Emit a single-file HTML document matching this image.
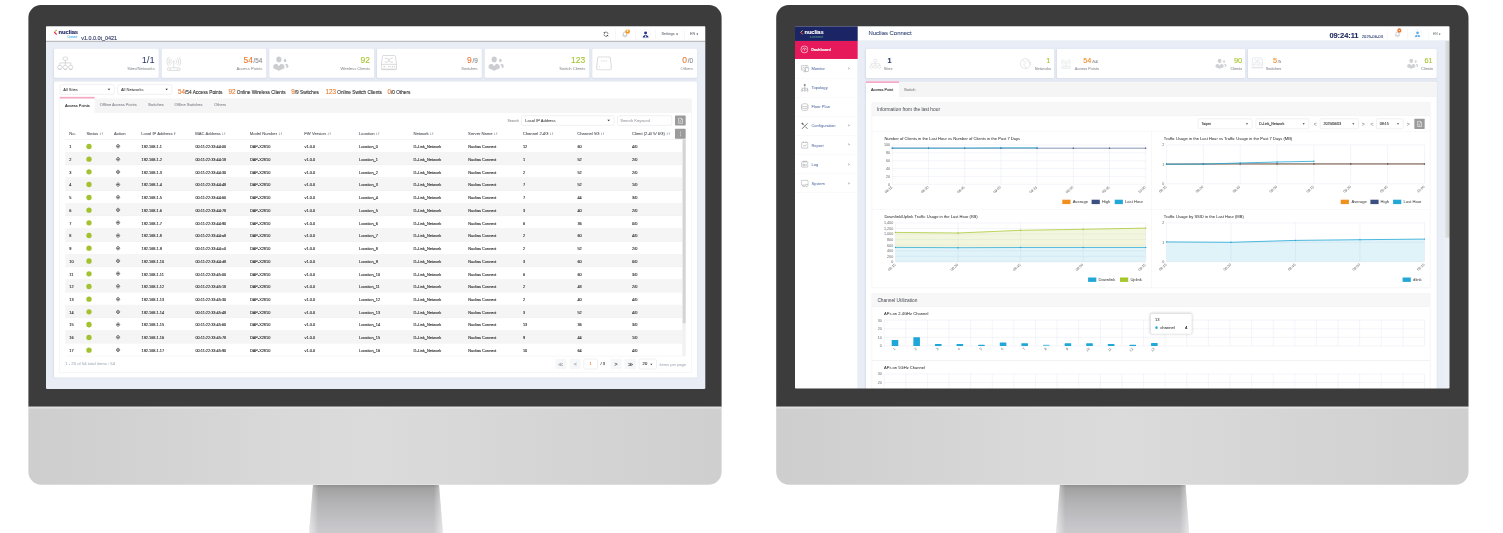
<!DOCTYPE html>
<html lang="en"><head><meta charset="utf-8"><title>Nuclias Connect</title>
<style>
*{box-sizing:border-box}
html,body{margin:0;padding:0}
body{width:1503px;height:533px;background:#fff;position:relative;overflow:hidden;
 font-family:"Liberation Sans",sans-serif;}
.abs{position:absolute}
.bezel{position:absolute;background:#3c3c3c;border-radius:12.5px 12.5px 0 0}
.chin{position:absolute;border-radius:0 0 13px 13px;
 background:linear-gradient(90deg,#cfcfcf 0%,#d2d2d2 12%,#d9dad9 38%,#dadbda 50%,#d6d6d6 70%,#d0d0d0 100%)}
.chin:before{content:"";position:absolute;left:0;right:0;top:0;height:3px;
 background:linear-gradient(180deg,rgba(235,235,235,.9),rgba(235,235,235,0))}
.screen{position:absolute;overflow:hidden;background:#e9edf6}
.ui{position:absolute;left:0;top:0;transform-origin:0 0;transform:scale(0.333333);
 font-family:"Liberation Sans",sans-serif;color:#222;-webkit-text-stroke:0.3px}
.ui div,.ui span{position:absolute;white-space:nowrap}
.ui span.i{position:static;line-height:0}
.t{line-height:1;transform:translateY(-50%)}
.tr{line-height:1;transform:translate(-100%,-50%)}
.tc{line-height:1;transform:translate(-50%,-50%)}
</style></head>
<body>
<svg class="abs" style="left:307.0px;top:484.6px" width="138.0" height="49.4" viewBox="307.0 484.6 138.0 49.4"><defs><linearGradient id="g28" x1="0" y1="0" x2="0" y2="1"><stop offset="0" stop-color="#8f8f8f"/><stop offset="0.07" stop-color="#a2a2a3"/><stop offset="0.35" stop-color="#b3b3b5"/><stop offset="0.75" stop-color="#c3c3c7"/><stop offset="1" stop-color="#cbcbce"/></linearGradient><linearGradient id="g28h" x1="0" y1="0" x2="1" y2="0"><stop offset="0" stop-color="#fff" stop-opacity=".55"/><stop offset="0.07" stop-color="#fff" stop-opacity="0"/><stop offset="0.93" stop-color="#fff" stop-opacity="0"/><stop offset="1" stop-color="#fff" stop-opacity=".55"/></linearGradient></defs><polygon points="313.0,484.6 439.0,484.6 443.0,534 309.0,534" fill="url(#g28)"/><polygon points="313.0,484.6 439.0,484.6 443.0,534 309.0,534" fill="url(#g28h)"/></svg>
<div class="screen" style="left:45px;top:25px;width:662px;height:365px"><div class="ui" style="width:1978px;height:1088px;transform:translate(1.00px,1.20px) scale(0.333333)"><div style="left:0.0px;top:0.0px;width:1977.9px;height:45.9px;background:#fff;border-bottom:2.1px solid #86888c"></div><svg class="abs" style="left:22.8px;top:10.2px;" width="12.0" height="16.2" viewBox="0 0 12 16"><path d="M9 1 L2 8 L9 15" fill="none" stroke="#f2b632" stroke-width="3.2"/><path d="M2 8 L9 15" fill="none" stroke="#e6215a" stroke-width="3.2"/><path d="M9.5 0.5 L6.5 3.5" fill="none" stroke="#2a8fd6" stroke-width="3"/></svg><div class="t" style="left:37.8px;top:17.7px;font-size:17.5px;color:#1c2363;font-weight:700;letter-spacing:-0.3px">nuclias</div><div class="t" style="left:64.2px;top:33.3px;font-size:8px;color:#5db8ea;font-weight:400;">Connect</div><div class="t" style="left:105.6px;top:35.7px;font-size:16.3px;color:#27305f;font-weight:400;">v1.0.0.0t_0421</div><div style="left:1706.6px;top:8.4px;width:0.9px;height:31.5px;background:#e4e6ea"></div><div style="left:1767.2px;top:8.4px;width:0.9px;height:31.5px;background:#e4e6ea"></div><div style="left:1828.7px;top:8.4px;width:0.9px;height:31.5px;background:#e4e6ea"></div><div style="left:1914.8px;top:8.4px;width:0.9px;height:31.5px;background:#e4e6ea"></div><svg class="abs" style="left:1670.7px;top:14.7px;" width="18.0" height="18.0" viewBox="0 0 18 18"><path d="M15.2 8.2A6.3 6.3 0 0 0 3.6 5.5" fill="none" stroke="#333" stroke-width="1.9"/><path d="M2.8 9.8A6.3 6.3 0 0 0 14.4 12.5" fill="none" stroke="#333" stroke-width="1.9"/><path d="M1.2 3.2L4 7.6L7.6 4.6Z" fill="#333"/><path d="M16.8 14.8L14 10.4L10.4 13.4Z" fill="#333"/></svg><svg class="abs" style="left:1726.8px;top:14.1px;" width="19.8" height="21.0" viewBox="0 0 20 21"><path d="M10 3.5c-3.2 0-5 2.4-5 5.4v3.8l-1.7 2.4h13.4l-1.7-2.4V8.9c0-3-1.8-5.4-5-5.400z" fill="none" stroke="#8f949c" stroke-width="1.5"/><path d="M8 17.3a2 2 0 0 0 4 0" fill="none" stroke="#8f949c" stroke-width="1.4"/></svg><div style="left:1737.9px;top:9.0px;width:13.8px;height:13.8px;background:#f59a1c;border-radius:50%"></div><div class="tc" style="left:1744.8px;top:15.9px;font-size:8px;color:#fff;font-weight:700;">0</div><div style="left:1783.8px;top:8.7px;width:30.0px;height:30.0px;background:#fff;border:1.5px solid #e2e5ea;border-radius:50%"></div><svg class="abs" style="left:1788.0px;top:12.9px;" width="21.6" height="23.4" viewBox="0 0 22 24"><circle cx="11" cy="7.3" r="4.6" fill="#2a3590"/><path d="M2.2 21.5c0-5 3.6-8 8.800-8s8.800 3 8.800 8z" fill="#2a3590"/><path d="M11 13.5l-2.200 5.500 2.200 2.500 2.200-2.500z" fill="#fff"/></svg><div class="t" style="left:1846.2px;top:23.7px;font-size:11px;color:#7a7f88;font-weight:400;">Settings <span class="i" style="font-size:8px;color:#333">&#9660;</span></div><div class="t" style="left:1932.0px;top:23.7px;font-size:11px;color:#7a7f88;font-weight:400;">EN <span class="i" style="font-size:8px;color:#333">&#9660;</span></div><div style="left:24.3px;top:68.1px;width:313.5px;height:87.3px;background:#fff;border-radius:4px;box-shadow:0 1px 5px rgba(120,135,170,.15)"></div><svg class="abs" style="left:33.0px;top:90.3px;" width="49.8" height="45.6" viewBox="0 0 48 44"><g fill="none" stroke="#bcbec2" stroke-width="1.6"><ellipse cx="24" cy="7" rx="7" ry="5.500"/><path d="M24 12.500v7M8 26v-6.500h32V26M24 19.500V26"/><ellipse cx="8" cy="32" rx="6.500" ry="5.500"/><ellipse cx="24" cy="32" rx="6.500" ry="5.500"/><ellipse cx="40" cy="32" rx="6.500" ry="5.500"/><path d="M4 38.500h8M20 38.500h8M36 38.500h8"/></g></svg><div class="tr" style="left:326.1px;top:102.3px;font-size:25.5px;color:#2b3a6b;font-weight:400;letter-spacing:1px"><span class="i" style="color:#2b3a6b">1/1</span></div><div class="tr" style="left:326.1px;top:127.2px;font-size:12.4px;color:#8c8f94;font-weight:400;-webkit-text-stroke:0.1px">Sites/Networks</div><div style="left:347.2px;top:68.1px;width:313.5px;height:87.3px;background:#fff;border-radius:4px;box-shadow:0 1px 5px rgba(120,135,170,.15)"></div><svg class="abs" style="left:360.0px;top:89.4px;" width="46.8" height="46.8" viewBox="0 0 48 48"><g fill="none" stroke="#bcbec2" stroke-width="1.5"><path d="M18 24a8 8 0 0 1 0-13M30 24a8 8 0 0 0 0-13M13.500 28a14 14 0 0 1 0-21M34.500 28a14 14 0 0 0 0-21M9 32a20 20 0 0 1 0-29M39 32a20 20 0 0 0 0-29"/><path d="M24 20v17"/><circle cx="24" cy="17.500" r="1.800"/><rect x="4" y="37" width="40" height="8" rx="4"/><path d="M9 41h6M30 41h2M34 41h2M38 41h2"/></g></svg><div class="tr" style="left:649.1px;top:102.3px;font-size:25.5px;color:#ea7a2e;font-weight:400;"><span class="i" style="color:#ea7a2e">54</span><span class="i" style="font-size:19px;color:#8a8d92;margin-left:2px">/54</span></div><div class="tr" style="left:649.1px;top:127.2px;font-size:12.4px;color:#8c8f94;font-weight:400;-webkit-text-stroke:0.1px">Access Points</div><div style="left:670.2px;top:68.1px;width:313.5px;height:87.3px;background:#fff;border-radius:4px;box-shadow:0 1px 5px rgba(120,135,170,.15)"></div><svg class="abs" style="left:680.1px;top:89.4px;" width="48.9" height="45.6" viewBox="0 0 50 46"><g fill="#cbcdd0"><path d="M19 2c-5 0-8 3.500-8 8.500 0 4 2 9 8 9s8-5 8-9C27 5.500 24 2 19 2z"/><path d="M2 38V31c0-3 2-4.500 5-5.500l6-2 6 8 6-8 6 2c3 1 5 2.500 5 5.500v7l-17 7z"/><ellipse cx="38" cy="14" rx="4" ry="5.500"/><path d="M38 27l3-3 4 1.500c2 .8 3 2 3 4V35l-6 3v-7z"/></g></svg><div class="tr" style="left:972.0px;top:102.3px;font-size:25.5px;color:#a3c52e;font-weight:400;"><span class="i" style="color:#a3c52e">92</span></div><div class="tr" style="left:972.0px;top:127.2px;font-size:12.4px;color:#8c8f94;font-weight:400;-webkit-text-stroke:0.1px">Wireless Clients</div><div style="left:993.2px;top:68.1px;width:313.5px;height:87.3px;background:#fff;border-radius:4px;box-shadow:0 1px 5px rgba(120,135,170,.15)"></div><svg class="abs" style="left:1003.5px;top:86.1px;" width="49.5" height="47.4" viewBox="0 0 52 50"><g fill="none" stroke="#bcbec2" stroke-width="1.700"><path d="M9 2h34c2 0 3 1 3.300 3L50 29v15c0 2-1 3-3 3H5c-2 0-3-1-3-3V29L5.700 5C6 3 7 2 9 2z"/><path d="M3 30h46M3 45h46"/><path d="M13 11h7c5 0 7 12 12 12h7M13 23h7c5 0 7-12 12-12h7"/><path d="M9 37.500h5M24 37.500h3M30 37.500h3M36 37.500h3M42 37.500h3" stroke-width="3"/></g></svg><div class="tr" style="left:1295.0px;top:102.3px;font-size:25.5px;color:#ea7a2e;font-weight:400;"><span class="i" style="color:#ea7a2e">9</span><span class="i" style="font-size:19px;color:#8a8d92;margin-left:2px">/9</span></div><div class="tr" style="left:1295.0px;top:127.2px;font-size:12.4px;color:#8c8f94;font-weight:400;-webkit-text-stroke:0.1px">Switches</div><div style="left:1316.1px;top:68.1px;width:313.5px;height:87.3px;background:#fff;border-radius:4px;box-shadow:0 1px 5px rgba(120,135,170,.15)"></div><svg class="abs" style="left:1326.0px;top:89.4px;" width="48.9" height="45.6" viewBox="0 0 50 46"><g fill="#cbcdd0"><path d="M19 2c-5 0-8 3.500-8 8.500 0 4 2 9 8 9s8-5 8-9C27 5.500 24 2 19 2z"/><path d="M2 38V31c0-3 2-4.500 5-5.500l6-2 6 8 6-8 6 2c3 1 5 2.500 5 5.500v7l-17 7z"/><ellipse cx="38" cy="14" rx="4" ry="5.500"/><path d="M38 27l3-3 4 1.500c2 .8 3 2 3 4V35l-6 3v-7z"/></g></svg><div class="tr" style="left:1617.9px;top:102.3px;font-size:25.5px;color:#a3c52e;font-weight:400;"><span class="i" style="color:#a3c52e">123</span></div><div class="tr" style="left:1617.9px;top:127.2px;font-size:12.4px;color:#8c8f94;font-weight:400;-webkit-text-stroke:0.1px">Switch Clients</div><div style="left:1639.1px;top:68.1px;width:313.5px;height:87.3px;background:#fff;border-radius:4px;box-shadow:0 1px 5px rgba(120,135,170,.15)"></div><svg class="abs" style="left:1650.0px;top:90.0px;" width="48.0" height="43.2" viewBox="0 0 46 42"><g fill="none" stroke="#bcbec2" stroke-width="1.700"><path d="M8 2h30c2 0 3 1 3.500 3L44 28v9c0 2-1 3-3 3H5c-2 0-3-1-3-3v-9L4.500 5C5 3 6 2 8 2z"/><path d="M15 14h3M21.500 14h3M28 14h3M9 31h2" stroke-width="2.200"/></g></svg><div class="tr" style="left:1940.9px;top:102.3px;font-size:25.5px;color:#ea7a2e;font-weight:400;"><span class="i" style="color:#ea7a2e">0</span><span class="i" style="font-size:19px;color:#8a8d92;margin-left:2px">/0</span></div><div class="tr" style="left:1940.9px;top:127.2px;font-size:12.4px;color:#8c8f94;font-weight:400;-webkit-text-stroke:0.1px">Others</div><div style="left:24.3px;top:165.6px;width:1928.7px;height:888.9px;background:#fff;border-radius:4px;box-shadow:0 1px 5px rgba(120,135,170,.15)"></div><div style="left:41.1px;top:174.9px;width:163.8px;height:30.6px;background:#fff;border:1.6px solid #d3d6db;border-radius:5px"></div><div class="t" style="left:51.6px;top:190.9px;font-size:12.2px;color:#3c3c3c;font-weight:400;-webkit-text-stroke:0.1px">All Sites</div><div style="left:184.6px;top:188.2px;width:0;height:0;border-left:4.1px solid transparent;border-right:4.1px solid transparent;border-top:4.5px solid #333"></div><div style="left:214.2px;top:174.9px;width:163.8px;height:30.6px;background:#fff;border:1.6px solid #d3d6db;border-radius:5px"></div><div class="t" style="left:224.7px;top:190.9px;font-size:12.2px;color:#3c3c3c;font-weight:400;-webkit-text-stroke:0.1px">All Networks</div><div style="left:357.8px;top:188.2px;width:0;height:0;border-left:4.1px solid transparent;border-right:4.1px solid transparent;border-top:4.5px solid #333"></div><div style="left:396.0px;top:184.9px;font-size:14.2px;color:#2a2a2a;line-height:24px;height:24px"><span class="i" style="color:#ea7a2e;font-size:19px">54</span>/54 Access Points</div><div style="left:547.2px;top:184.9px;font-size:14.2px;color:#2a2a2a;line-height:24px;height:24px"><span class="i" style="color:#ea7a2e;font-size:19px">92</span> Online Wireless Clients</div><div style="left:735.6px;top:184.9px;font-size:14.2px;color:#2a2a2a;line-height:24px;height:24px"><span class="i" style="color:#ea7a2e;font-size:19px">9</span>/9 Switches</div><div style="left:838.2px;top:184.9px;font-size:14.2px;color:#2a2a2a;line-height:24px;height:24px"><span class="i" style="color:#ea7a2e;font-size:19px">123</span> Online Switch Clients</div><div style="left:1024.2px;top:184.9px;font-size:14.2px;color:#2a2a2a;line-height:24px;height:24px"><span class="i" style="color:#ea7a2e;font-size:19px">0</span>/0 Others</div><div style="left:41.1px;top:217.2px;width:1895.4px;height:821.7px;background:#fff;border:1.2px solid #e3e5e8;border-top:none"></div><div style="left:41.1px;top:216.6px;width:1895.4px;height:42.6px;background:#f5f5f5;border-bottom:1.2px solid #ececec"></div><div style="left:41.1px;top:212.1px;width:104.7px;height:47.7px;background:#fff;border-top:5.6px solid #f5a6c3"></div><div class="t" style="left:57.0px;top:237.9px;font-size:11.8px;color:#333;font-weight:400;">Access Points</div><div class="t" style="left:161.4px;top:236.7px;font-size:11.8px;color:#8d9096;font-weight:400;">Offline Access Points</div><div class="t" style="left:306.0px;top:236.7px;font-size:11.8px;color:#8d9096;font-weight:400;">Switches</div><div class="t" style="left:385.2px;top:236.7px;font-size:11.8px;color:#8d9096;font-weight:400;">Offline Switches</div><div class="t" style="left:504.6px;top:236.7px;font-size:11.8px;color:#8d9096;font-weight:400;">Others</div><div class="tr" style="left:1417.8px;top:282.9px;font-size:10.5px;color:#9a9da3;font-weight:400;">Search</div><div style="left:1425.9px;top:267.9px;width:279.6px;height:30.3px;background:#fff;border:1.6px solid #d3d6db;border-radius:5px"></div><div class="t" style="left:1437.6px;top:283.8px;font-size:12.2px;color:#3c3c3c;font-weight:400;-webkit-text-stroke:0.1px">Local IP Address</div><div style="left:1684.1px;top:281.2px;width:0;height:0;border-left:4.1px solid transparent;border-right:4.1px solid transparent;border-top:4.5px solid #333"></div><div style="left:1714.2px;top:267.9px;width:163.5px;height:30.3px;background:#fff;border:1.6px solid #d3d6db;border-radius:5px"></div><div class="t" style="left:1722.9px;top:283.8px;font-size:12.2px;color:#a9acb2;font-weight:400;">Search Keyword</div><div style="left:1887.3px;top:267.6px;width:31.8px;height:30.6px;background:#9b9b9b;border-radius:2px"></div><svg class="abs" style="left:1894.8px;top:273.6px;" width="17.4" height="19.2" viewBox="0 0 18 20"><path d="M3 1.500h8l4.500 4.500v12.500h-12.500z" fill="none" stroke="#fff" stroke-width="1.700"/><path d="M11 1.500v4.500h4.500" fill="none" stroke="#fff" stroke-width="1.500"/><path d="M6 10.500h6M6 14h6" stroke="#fff" stroke-width="1.300"/></svg><div style="left:1887.3px;top:308.1px;width:31.8px;height:30.3px;background:#9b9b9b;border-radius:2px"></div><div style="left:1902.0px;top:316.2px;width:2.7px;height:2.7px;background:#fff;border-radius:50%"></div><div style="left:1902.0px;top:321.9px;width:2.7px;height:2.7px;background:#fff;border-radius:50%"></div><div style="left:1902.0px;top:327.6px;width:2.7px;height:2.7px;background:#fff;border-radius:50%"></div><div class="t" style="left:69.6px;top:324.3px;font-size:12.5px;color:#5b5f66;font-weight:400;">No.</div><div class="t" style="left:121.2px;top:324.3px;font-size:12.5px;color:#5b5f66;font-weight:400;">Status <span class="i" style="font-size:13px;color:#7d8086;letter-spacing:-0.5px">&#8595;&#8593;</span></div><div class="t" style="left:203.7px;top:324.3px;font-size:12.5px;color:#5b5f66;font-weight:400;">Action</div><div class="t" style="left:285.9px;top:324.3px;font-size:12.5px;color:#5b5f66;font-weight:400;">Local IP Address <span class="i" style="font-size:13px;color:#222;font-weight:700">&#8593;</span></div><div class="t" style="left:447.6px;top:324.3px;font-size:12.5px;color:#5b5f66;font-weight:400;">MAC Address <span class="i" style="font-size:13px;color:#7d8086;letter-spacing:-0.5px">&#8595;&#8593;</span></div><div class="t" style="left:611.1px;top:324.3px;font-size:12.5px;color:#5b5f66;font-weight:400;">Model Number <span class="i" style="font-size:13px;color:#7d8086;letter-spacing:-0.5px">&#8595;&#8593;</span></div><div class="t" style="left:774.9px;top:324.3px;font-size:12.5px;color:#5b5f66;font-weight:400;">FW Version <span class="i" style="font-size:13px;color:#7d8086;letter-spacing:-0.5px">&#8595;&#8593;</span></div><div class="t" style="left:938.4px;top:324.3px;font-size:12.5px;color:#5b5f66;font-weight:400;">Location <span class="i" style="font-size:13px;color:#7d8086;letter-spacing:-0.5px">&#8595;&#8593;</span></div><div class="t" style="left:1102.2px;top:324.3px;font-size:12.5px;color:#5b5f66;font-weight:400;">Network <span class="i" style="font-size:13px;color:#7d8086;letter-spacing:-0.5px">&#8595;&#8593;</span></div><div class="t" style="left:1266.3px;top:324.3px;font-size:12.5px;color:#5b5f66;font-weight:400;">Server Name <span class="i" style="font-size:13px;color:#7d8086;letter-spacing:-0.5px">&#8595;&#8593;</span></div><div class="t" style="left:1430.1px;top:324.3px;font-size:12.5px;color:#5b5f66;font-weight:400;">Channel 2.4G <span class="i" style="font-size:13px;color:#7d8086;letter-spacing:-0.5px">&#8595;&#8593;</span></div><div class="t" style="left:1593.6px;top:324.3px;font-size:12.5px;color:#5b5f66;font-weight:400;">Channel 5G <span class="i" style="font-size:13px;color:#7d8086;letter-spacing:-0.5px">&#8595;&#8593;</span></div><div class="t" style="left:1757.7px;top:324.3px;font-size:12.5px;color:#5b5f66;font-weight:400;">Client (2.4/ 5/ 6G) <span class="i" style="font-size:13px;color:#7d8086;letter-spacing:-0.5px">&#8595;&#8593;</span></div><div style="left:57.6px;top:339.7px;width:1861.5px;height:1.2px;background:#d4d6d9"></div><div style="left:57.6px;top:340.9px;width:1851.6px;height:38.2px;background:#fff;border-bottom:1.2px solid #e3e4e6"></div><div class="t" style="left:69.9px;top:361.6px;font-size:11.6px;color:#222;font-weight:400;">1</div><div style="left:120.9px;top:352.7px;width:16.2px;height:16.2px;background:#a4c22f;border-radius:50%"></div><svg class="abs" style="left:208.8px;top:353.3px;" width="14.4" height="14.4" viewBox="0 0 16 16"><path d="M8 1L15 8L8 15L1 8Z" fill="#fff" stroke="#333" stroke-width="1.800"/><path d="M8 4.500L11.500 8L8 11.500L4.500 8Z" fill="#444"/><path d="M8 1v3.500M8 11.500V15M1 8h3.500M11.500 8H15" stroke="#333" stroke-width="1.300"/></svg><div class="t" style="left:286.5px;top:361.6px;font-size:11.6px;color:#1f1f1f;font-weight:400;">192.168.1.1</div><div class="t" style="left:448.2px;top:361.6px;font-size:11.6px;color:#1f1f1f;font-weight:400;">00:11:22:33:44:00</div><div class="t" style="left:611.7px;top:361.6px;font-size:11.6px;color:#1f1f1f;font-weight:400;">DAP-X2810</div><div class="t" style="left:775.5px;top:361.6px;font-size:11.6px;color:#1f1f1f;font-weight:400;">v1.0.0</div><div class="t" style="left:939.0px;top:361.6px;font-size:11.6px;color:#1f1f1f;font-weight:400;">Location_0</div><div class="t" style="left:1102.8px;top:361.6px;font-size:11.6px;color:#1f1f1f;font-weight:400;">D-Link_Network</div><div class="t" style="left:1266.9px;top:361.6px;font-size:11.6px;color:#1f1f1f;font-weight:400;">Nuclias Connect</div><div class="t" style="left:1430.7px;top:361.6px;font-size:11.6px;color:#1f1f1f;font-weight:400;">12</div><div class="t" style="left:1594.2px;top:361.6px;font-size:11.6px;color:#1f1f1f;font-weight:400;">60</div><div class="t" style="left:1758.3px;top:361.6px;font-size:11.6px;color:#1f1f1f;font-weight:400;">4/0</div><div style="left:57.6px;top:379.1px;width:1851.6px;height:38.2px;background:#f5f5f5;border-bottom:1.2px solid #e3e4e6"></div><div class="t" style="left:69.9px;top:399.8px;font-size:11.6px;color:#222;font-weight:400;">2</div><div style="left:120.9px;top:390.9px;width:16.2px;height:16.2px;background:#a4c22f;border-radius:50%"></div><svg class="abs" style="left:208.8px;top:391.5px;" width="14.4" height="14.4" viewBox="0 0 16 16"><path d="M8 1L15 8L8 15L1 8Z" fill="#fff" stroke="#333" stroke-width="1.800"/><path d="M8 4.500L11.500 8L8 11.500L4.500 8Z" fill="#444"/><path d="M8 1v3.500M8 11.500V15M1 8h3.500M11.500 8H15" stroke="#333" stroke-width="1.300"/></svg><div class="t" style="left:286.5px;top:399.8px;font-size:11.6px;color:#1f1f1f;font-weight:400;">192.168.1.2</div><div class="t" style="left:448.2px;top:399.8px;font-size:11.6px;color:#1f1f1f;font-weight:400;">00:11:22:33:44:18</div><div class="t" style="left:611.7px;top:399.8px;font-size:11.6px;color:#1f1f1f;font-weight:400;">DAP-X2810</div><div class="t" style="left:775.5px;top:399.8px;font-size:11.6px;color:#1f1f1f;font-weight:400;">v1.0.0</div><div class="t" style="left:939.0px;top:399.8px;font-size:11.6px;color:#1f1f1f;font-weight:400;">Location_1</div><div class="t" style="left:1102.8px;top:399.8px;font-size:11.6px;color:#1f1f1f;font-weight:400;">D-Link_Network</div><div class="t" style="left:1266.9px;top:399.8px;font-size:11.6px;color:#1f1f1f;font-weight:400;">Nuclias Connect</div><div class="t" style="left:1430.7px;top:399.8px;font-size:11.6px;color:#1f1f1f;font-weight:400;">1</div><div class="t" style="left:1594.2px;top:399.8px;font-size:11.6px;color:#1f1f1f;font-weight:400;">52</div><div class="t" style="left:1758.3px;top:399.8px;font-size:11.6px;color:#1f1f1f;font-weight:400;">2/0</div><div style="left:57.6px;top:417.3px;width:1851.6px;height:38.2px;background:#fff;border-bottom:1.2px solid #e3e4e6"></div><div class="t" style="left:69.9px;top:438.0px;font-size:11.6px;color:#222;font-weight:400;">3</div><div style="left:120.9px;top:429.1px;width:16.2px;height:16.2px;background:#a4c22f;border-radius:50%"></div><svg class="abs" style="left:208.8px;top:429.7px;" width="14.4" height="14.4" viewBox="0 0 16 16"><path d="M8 1L15 8L8 15L1 8Z" fill="#fff" stroke="#333" stroke-width="1.800"/><path d="M8 4.500L11.500 8L8 11.500L4.500 8Z" fill="#444"/><path d="M8 1v3.500M8 11.500V15M1 8h3.500M11.500 8H15" stroke="#333" stroke-width="1.300"/></svg><div class="t" style="left:286.5px;top:438.0px;font-size:11.6px;color:#1f1f1f;font-weight:400;">192.168.1.3</div><div class="t" style="left:448.2px;top:438.0px;font-size:11.6px;color:#1f1f1f;font-weight:400;">00:11:22:33:44:30</div><div class="t" style="left:611.7px;top:438.0px;font-size:11.6px;color:#1f1f1f;font-weight:400;">DAP-X2810</div><div class="t" style="left:775.5px;top:438.0px;font-size:11.6px;color:#1f1f1f;font-weight:400;">v1.0.0</div><div class="t" style="left:939.0px;top:438.0px;font-size:11.6px;color:#1f1f1f;font-weight:400;">Location_2</div><div class="t" style="left:1102.8px;top:438.0px;font-size:11.6px;color:#1f1f1f;font-weight:400;">D-Link_Network</div><div class="t" style="left:1266.9px;top:438.0px;font-size:11.6px;color:#1f1f1f;font-weight:400;">Nuclias Connect</div><div class="t" style="left:1430.7px;top:438.0px;font-size:11.6px;color:#1f1f1f;font-weight:400;">2</div><div class="t" style="left:1594.2px;top:438.0px;font-size:11.6px;color:#1f1f1f;font-weight:400;">52</div><div class="t" style="left:1758.3px;top:438.0px;font-size:11.6px;color:#1f1f1f;font-weight:400;">2/0</div><div style="left:57.6px;top:455.5px;width:1851.6px;height:38.2px;background:#f5f5f5;border-bottom:1.2px solid #e3e4e6"></div><div class="t" style="left:69.9px;top:476.1px;font-size:11.6px;color:#222;font-weight:400;">4</div><div style="left:120.9px;top:467.3px;width:16.2px;height:16.2px;background:#a4c22f;border-radius:50%"></div><svg class="abs" style="left:208.8px;top:467.9px;" width="14.4" height="14.4" viewBox="0 0 16 16"><path d="M8 1L15 8L8 15L1 8Z" fill="#fff" stroke="#333" stroke-width="1.800"/><path d="M8 4.500L11.500 8L8 11.500L4.500 8Z" fill="#444"/><path d="M8 1v3.500M8 11.500V15M1 8h3.500M11.500 8H15" stroke="#333" stroke-width="1.300"/></svg><div class="t" style="left:286.5px;top:476.1px;font-size:11.6px;color:#1f1f1f;font-weight:400;">192.168.1.4</div><div class="t" style="left:448.2px;top:476.1px;font-size:11.6px;color:#1f1f1f;font-weight:400;">00:11:22:33:44:48</div><div class="t" style="left:611.7px;top:476.1px;font-size:11.6px;color:#1f1f1f;font-weight:400;">DAP-X2810</div><div class="t" style="left:775.5px;top:476.1px;font-size:11.6px;color:#1f1f1f;font-weight:400;">v1.0.0</div><div class="t" style="left:939.0px;top:476.1px;font-size:11.6px;color:#1f1f1f;font-weight:400;">Location_3</div><div class="t" style="left:1102.8px;top:476.1px;font-size:11.6px;color:#1f1f1f;font-weight:400;">D-Link_Network</div><div class="t" style="left:1266.9px;top:476.1px;font-size:11.6px;color:#1f1f1f;font-weight:400;">Nuclias Connect</div><div class="t" style="left:1430.7px;top:476.1px;font-size:11.6px;color:#1f1f1f;font-weight:400;">7</div><div class="t" style="left:1594.2px;top:476.1px;font-size:11.6px;color:#1f1f1f;font-weight:400;">52</div><div class="t" style="left:1758.3px;top:476.1px;font-size:11.6px;color:#1f1f1f;font-weight:400;">1/0</div><div style="left:57.6px;top:493.7px;width:1851.6px;height:38.2px;background:#fff;border-bottom:1.2px solid #e3e4e6"></div><div class="t" style="left:69.9px;top:514.3px;font-size:11.6px;color:#222;font-weight:400;">5</div><div style="left:120.9px;top:505.5px;width:16.2px;height:16.2px;background:#a4c22f;border-radius:50%"></div><svg class="abs" style="left:208.8px;top:506.1px;" width="14.4" height="14.4" viewBox="0 0 16 16"><path d="M8 1L15 8L8 15L1 8Z" fill="#fff" stroke="#333" stroke-width="1.800"/><path d="M8 4.500L11.500 8L8 11.500L4.500 8Z" fill="#444"/><path d="M8 1v3.500M8 11.500V15M1 8h3.500M11.500 8H15" stroke="#333" stroke-width="1.300"/></svg><div class="t" style="left:286.5px;top:514.3px;font-size:11.6px;color:#1f1f1f;font-weight:400;">192.168.1.5</div><div class="t" style="left:448.2px;top:514.3px;font-size:11.6px;color:#1f1f1f;font-weight:400;">00:11:22:33:44:60</div><div class="t" style="left:611.7px;top:514.3px;font-size:11.6px;color:#1f1f1f;font-weight:400;">DAP-X2810</div><div class="t" style="left:775.5px;top:514.3px;font-size:11.6px;color:#1f1f1f;font-weight:400;">v1.0.0</div><div class="t" style="left:939.0px;top:514.3px;font-size:11.6px;color:#1f1f1f;font-weight:400;">Location_4</div><div class="t" style="left:1102.8px;top:514.3px;font-size:11.6px;color:#1f1f1f;font-weight:400;">D-Link_Network</div><div class="t" style="left:1266.9px;top:514.3px;font-size:11.6px;color:#1f1f1f;font-weight:400;">Nuclias Connect</div><div class="t" style="left:1430.7px;top:514.3px;font-size:11.6px;color:#1f1f1f;font-weight:400;">7</div><div class="t" style="left:1594.2px;top:514.3px;font-size:11.6px;color:#1f1f1f;font-weight:400;">44</div><div class="t" style="left:1758.3px;top:514.3px;font-size:11.6px;color:#1f1f1f;font-weight:400;">3/0</div><div style="left:57.6px;top:531.9px;width:1851.6px;height:38.2px;background:#f5f5f5;border-bottom:1.2px solid #e3e4e6"></div><div class="t" style="left:69.9px;top:552.5px;font-size:11.6px;color:#222;font-weight:400;">6</div><div style="left:120.9px;top:543.6px;width:16.2px;height:16.2px;background:#a4c22f;border-radius:50%"></div><svg class="abs" style="left:208.8px;top:544.2px;" width="14.4" height="14.4" viewBox="0 0 16 16"><path d="M8 1L15 8L8 15L1 8Z" fill="#fff" stroke="#333" stroke-width="1.800"/><path d="M8 4.500L11.500 8L8 11.500L4.500 8Z" fill="#444"/><path d="M8 1v3.500M8 11.500V15M1 8h3.500M11.500 8H15" stroke="#333" stroke-width="1.300"/></svg><div class="t" style="left:286.5px;top:552.5px;font-size:11.6px;color:#1f1f1f;font-weight:400;">192.168.1.6</div><div class="t" style="left:448.2px;top:552.5px;font-size:11.6px;color:#1f1f1f;font-weight:400;">00:11:22:33:44:78</div><div class="t" style="left:611.7px;top:552.5px;font-size:11.6px;color:#1f1f1f;font-weight:400;">DAP-X2810</div><div class="t" style="left:775.5px;top:552.5px;font-size:11.6px;color:#1f1f1f;font-weight:400;">v1.0.0</div><div class="t" style="left:939.0px;top:552.5px;font-size:11.6px;color:#1f1f1f;font-weight:400;">Location_5</div><div class="t" style="left:1102.8px;top:552.5px;font-size:11.6px;color:#1f1f1f;font-weight:400;">D-Link_Network</div><div class="t" style="left:1266.9px;top:552.5px;font-size:11.6px;color:#1f1f1f;font-weight:400;">Nuclias Connect</div><div class="t" style="left:1430.7px;top:552.5px;font-size:11.6px;color:#1f1f1f;font-weight:400;">3</div><div class="t" style="left:1594.2px;top:552.5px;font-size:11.6px;color:#1f1f1f;font-weight:400;">40</div><div class="t" style="left:1758.3px;top:552.5px;font-size:11.6px;color:#1f1f1f;font-weight:400;">2/0</div><div style="left:57.6px;top:570.1px;width:1851.6px;height:38.2px;background:#fff;border-bottom:1.2px solid #e3e4e6"></div><div class="t" style="left:69.9px;top:590.7px;font-size:11.6px;color:#222;font-weight:400;">7</div><div style="left:120.9px;top:581.8px;width:16.2px;height:16.2px;background:#a4c22f;border-radius:50%"></div><svg class="abs" style="left:208.8px;top:582.4px;" width="14.4" height="14.4" viewBox="0 0 16 16"><path d="M8 1L15 8L8 15L1 8Z" fill="#fff" stroke="#333" stroke-width="1.800"/><path d="M8 4.500L11.500 8L8 11.500L4.500 8Z" fill="#444"/><path d="M8 1v3.500M8 11.500V15M1 8h3.500M11.500 8H15" stroke="#333" stroke-width="1.300"/></svg><div class="t" style="left:286.5px;top:590.7px;font-size:11.6px;color:#1f1f1f;font-weight:400;">192.168.1.7</div><div class="t" style="left:448.2px;top:590.7px;font-size:11.6px;color:#1f1f1f;font-weight:400;">00:11:22:33:44:90</div><div class="t" style="left:611.7px;top:590.7px;font-size:11.6px;color:#1f1f1f;font-weight:400;">DAP-X2810</div><div class="t" style="left:775.5px;top:590.7px;font-size:11.6px;color:#1f1f1f;font-weight:400;">v1.0.0</div><div class="t" style="left:939.0px;top:590.7px;font-size:11.6px;color:#1f1f1f;font-weight:400;">Location_6</div><div class="t" style="left:1102.8px;top:590.7px;font-size:11.6px;color:#1f1f1f;font-weight:400;">D-Link_Network</div><div class="t" style="left:1266.9px;top:590.7px;font-size:11.6px;color:#1f1f1f;font-weight:400;">Nuclias Connect</div><div class="t" style="left:1430.7px;top:590.7px;font-size:11.6px;color:#1f1f1f;font-weight:400;">6</div><div class="t" style="left:1594.2px;top:590.7px;font-size:11.6px;color:#1f1f1f;font-weight:400;">36</div><div class="t" style="left:1758.3px;top:590.7px;font-size:11.6px;color:#1f1f1f;font-weight:400;">0/0</div><div style="left:57.6px;top:608.3px;width:1851.6px;height:38.2px;background:#f5f5f5;border-bottom:1.2px solid #e3e4e6"></div><div class="t" style="left:69.9px;top:628.9px;font-size:11.6px;color:#222;font-weight:400;">8</div><div style="left:120.9px;top:620.0px;width:16.2px;height:16.2px;background:#a4c22f;border-radius:50%"></div><svg class="abs" style="left:208.8px;top:620.6px;" width="14.4" height="14.4" viewBox="0 0 16 16"><path d="M8 1L15 8L8 15L1 8Z" fill="#fff" stroke="#333" stroke-width="1.800"/><path d="M8 4.500L11.500 8L8 11.500L4.500 8Z" fill="#444"/><path d="M8 1v3.500M8 11.500V15M1 8h3.500M11.500 8H15" stroke="#333" stroke-width="1.300"/></svg><div class="t" style="left:286.5px;top:628.9px;font-size:11.6px;color:#1f1f1f;font-weight:400;">192.168.1.8</div><div class="t" style="left:448.2px;top:628.9px;font-size:11.6px;color:#1f1f1f;font-weight:400;">00:11:22:33:44:a8</div><div class="t" style="left:611.7px;top:628.9px;font-size:11.6px;color:#1f1f1f;font-weight:400;">DAP-X2810</div><div class="t" style="left:775.5px;top:628.9px;font-size:11.6px;color:#1f1f1f;font-weight:400;">v1.0.0</div><div class="t" style="left:939.0px;top:628.9px;font-size:11.6px;color:#1f1f1f;font-weight:400;">Location_7</div><div class="t" style="left:1102.8px;top:628.9px;font-size:11.6px;color:#1f1f1f;font-weight:400;">D-Link_Network</div><div class="t" style="left:1266.9px;top:628.9px;font-size:11.6px;color:#1f1f1f;font-weight:400;">Nuclias Connect</div><div class="t" style="left:1430.7px;top:628.9px;font-size:11.6px;color:#1f1f1f;font-weight:400;">2</div><div class="t" style="left:1594.2px;top:628.9px;font-size:11.6px;color:#1f1f1f;font-weight:400;">60</div><div class="t" style="left:1758.3px;top:628.9px;font-size:11.6px;color:#1f1f1f;font-weight:400;">4/0</div><div style="left:57.6px;top:646.5px;width:1851.6px;height:38.2px;background:#fff;border-bottom:1.2px solid #e3e4e6"></div><div class="t" style="left:69.9px;top:667.1px;font-size:11.6px;color:#222;font-weight:400;">9</div><div style="left:120.9px;top:658.2px;width:16.2px;height:16.2px;background:#a4c22f;border-radius:50%"></div><svg class="abs" style="left:208.8px;top:658.8px;" width="14.4" height="14.4" viewBox="0 0 16 16"><path d="M8 1L15 8L8 15L1 8Z" fill="#fff" stroke="#333" stroke-width="1.800"/><path d="M8 4.500L11.500 8L8 11.500L4.500 8Z" fill="#444"/><path d="M8 1v3.500M8 11.500V15M1 8h3.500M11.500 8H15" stroke="#333" stroke-width="1.300"/></svg><div class="t" style="left:286.5px;top:667.1px;font-size:11.6px;color:#1f1f1f;font-weight:400;">192.168.1.9</div><div class="t" style="left:448.2px;top:667.1px;font-size:11.6px;color:#1f1f1f;font-weight:400;">00:11:22:33:44:c0</div><div class="t" style="left:611.7px;top:667.1px;font-size:11.6px;color:#1f1f1f;font-weight:400;">DAP-X2810</div><div class="t" style="left:775.5px;top:667.1px;font-size:11.6px;color:#1f1f1f;font-weight:400;">v1.0.0</div><div class="t" style="left:939.0px;top:667.1px;font-size:11.6px;color:#1f1f1f;font-weight:400;">Location_8</div><div class="t" style="left:1102.8px;top:667.1px;font-size:11.6px;color:#1f1f1f;font-weight:400;">D-Link_Network</div><div class="t" style="left:1266.9px;top:667.1px;font-size:11.6px;color:#1f1f1f;font-weight:400;">Nuclias Connect</div><div class="t" style="left:1430.7px;top:667.1px;font-size:11.6px;color:#1f1f1f;font-weight:400;">2</div><div class="t" style="left:1594.2px;top:667.1px;font-size:11.6px;color:#1f1f1f;font-weight:400;">52</div><div class="t" style="left:1758.3px;top:667.1px;font-size:11.6px;color:#1f1f1f;font-weight:400;">2/0</div><div style="left:57.6px;top:684.7px;width:1851.6px;height:38.2px;background:#f5f5f5;border-bottom:1.2px solid #e3e4e6"></div><div class="t" style="left:69.9px;top:705.3px;font-size:11.6px;color:#222;font-weight:400;">10</div><div style="left:120.9px;top:696.4px;width:16.2px;height:16.2px;background:#a4c22f;border-radius:50%"></div><svg class="abs" style="left:208.8px;top:697.0px;" width="14.4" height="14.4" viewBox="0 0 16 16"><path d="M8 1L15 8L8 15L1 8Z" fill="#fff" stroke="#333" stroke-width="1.800"/><path d="M8 4.500L11.500 8L8 11.500L4.500 8Z" fill="#444"/><path d="M8 1v3.500M8 11.500V15M1 8h3.500M11.500 8H15" stroke="#333" stroke-width="1.300"/></svg><div class="t" style="left:286.5px;top:705.3px;font-size:11.6px;color:#1f1f1f;font-weight:400;">192.168.1.10</div><div class="t" style="left:448.2px;top:705.3px;font-size:11.6px;color:#1f1f1f;font-weight:400;">00:11:22:33:44:d8</div><div class="t" style="left:611.7px;top:705.3px;font-size:11.6px;color:#1f1f1f;font-weight:400;">DAP-X2810</div><div class="t" style="left:775.5px;top:705.3px;font-size:11.6px;color:#1f1f1f;font-weight:400;">v1.0.0</div><div class="t" style="left:939.0px;top:705.3px;font-size:11.6px;color:#1f1f1f;font-weight:400;">Location_9</div><div class="t" style="left:1102.8px;top:705.3px;font-size:11.6px;color:#1f1f1f;font-weight:400;">D-Link_Network</div><div class="t" style="left:1266.9px;top:705.3px;font-size:11.6px;color:#1f1f1f;font-weight:400;">Nuclias Connect</div><div class="t" style="left:1430.7px;top:705.3px;font-size:11.6px;color:#1f1f1f;font-weight:400;">3</div><div class="t" style="left:1594.2px;top:705.3px;font-size:11.6px;color:#1f1f1f;font-weight:400;">60</div><div class="t" style="left:1758.3px;top:705.3px;font-size:11.6px;color:#1f1f1f;font-weight:400;">0/0</div><div style="left:57.6px;top:722.8px;width:1851.6px;height:38.2px;background:#fff;border-bottom:1.2px solid #e3e4e6"></div><div class="t" style="left:69.9px;top:743.5px;font-size:11.6px;color:#222;font-weight:400;">11</div><div style="left:120.9px;top:734.6px;width:16.2px;height:16.2px;background:#a4c22f;border-radius:50%"></div><svg class="abs" style="left:208.8px;top:735.2px;" width="14.4" height="14.4" viewBox="0 0 16 16"><path d="M8 1L15 8L8 15L1 8Z" fill="#fff" stroke="#333" stroke-width="1.800"/><path d="M8 4.500L11.500 8L8 11.500L4.500 8Z" fill="#444"/><path d="M8 1v3.500M8 11.500V15M1 8h3.500M11.500 8H15" stroke="#333" stroke-width="1.300"/></svg><div class="t" style="left:286.5px;top:743.5px;font-size:11.6px;color:#1f1f1f;font-weight:400;">192.168.1.11</div><div class="t" style="left:448.2px;top:743.5px;font-size:11.6px;color:#1f1f1f;font-weight:400;">00:11:22:33:45:00</div><div class="t" style="left:611.7px;top:743.5px;font-size:11.6px;color:#1f1f1f;font-weight:400;">DAP-X2810</div><div class="t" style="left:775.5px;top:743.5px;font-size:11.6px;color:#1f1f1f;font-weight:400;">v1.0.0</div><div class="t" style="left:939.0px;top:743.5px;font-size:11.6px;color:#1f1f1f;font-weight:400;">Location_10</div><div class="t" style="left:1102.8px;top:743.5px;font-size:11.6px;color:#1f1f1f;font-weight:400;">D-Link_Network</div><div class="t" style="left:1266.9px;top:743.5px;font-size:11.6px;color:#1f1f1f;font-weight:400;">Nuclias Connect</div><div class="t" style="left:1430.7px;top:743.5px;font-size:11.6px;color:#1f1f1f;font-weight:400;">6</div><div class="t" style="left:1594.2px;top:743.5px;font-size:11.6px;color:#1f1f1f;font-weight:400;">60</div><div class="t" style="left:1758.3px;top:743.5px;font-size:11.6px;color:#1f1f1f;font-weight:400;">3/0</div><div style="left:57.6px;top:761.0px;width:1851.6px;height:38.2px;background:#f5f5f5;border-bottom:1.2px solid #e3e4e6"></div><div class="t" style="left:69.9px;top:781.7px;font-size:11.6px;color:#222;font-weight:400;">12</div><div style="left:120.9px;top:772.8px;width:16.2px;height:16.2px;background:#a4c22f;border-radius:50%"></div><svg class="abs" style="left:208.8px;top:773.4px;" width="14.4" height="14.4" viewBox="0 0 16 16"><path d="M8 1L15 8L8 15L1 8Z" fill="#fff" stroke="#333" stroke-width="1.800"/><path d="M8 4.500L11.500 8L8 11.500L4.500 8Z" fill="#444"/><path d="M8 1v3.500M8 11.500V15M1 8h3.500M11.500 8H15" stroke="#333" stroke-width="1.300"/></svg><div class="t" style="left:286.5px;top:781.7px;font-size:11.6px;color:#1f1f1f;font-weight:400;">192.168.1.12</div><div class="t" style="left:448.2px;top:781.7px;font-size:11.6px;color:#1f1f1f;font-weight:400;">00:11:22:33:45:18</div><div class="t" style="left:611.7px;top:781.7px;font-size:11.6px;color:#1f1f1f;font-weight:400;">DAP-X2810</div><div class="t" style="left:775.5px;top:781.7px;font-size:11.6px;color:#1f1f1f;font-weight:400;">v1.0.0</div><div class="t" style="left:939.0px;top:781.7px;font-size:11.6px;color:#1f1f1f;font-weight:400;">Location_11</div><div class="t" style="left:1102.8px;top:781.7px;font-size:11.6px;color:#1f1f1f;font-weight:400;">D-Link_Network</div><div class="t" style="left:1266.9px;top:781.7px;font-size:11.6px;color:#1f1f1f;font-weight:400;">Nuclias Connect</div><div class="t" style="left:1430.7px;top:781.7px;font-size:11.6px;color:#1f1f1f;font-weight:400;">2</div><div class="t" style="left:1594.2px;top:781.7px;font-size:11.6px;color:#1f1f1f;font-weight:400;">48</div><div class="t" style="left:1758.3px;top:781.7px;font-size:11.6px;color:#1f1f1f;font-weight:400;">2/0</div><div style="left:57.6px;top:799.2px;width:1851.6px;height:38.2px;background:#fff;border-bottom:1.2px solid #e3e4e6"></div><div class="t" style="left:69.9px;top:819.9px;font-size:11.6px;color:#222;font-weight:400;">13</div><div style="left:120.9px;top:811.0px;width:16.2px;height:16.2px;background:#a4c22f;border-radius:50%"></div><svg class="abs" style="left:208.8px;top:811.6px;" width="14.4" height="14.4" viewBox="0 0 16 16"><path d="M8 1L15 8L8 15L1 8Z" fill="#fff" stroke="#333" stroke-width="1.800"/><path d="M8 4.500L11.500 8L8 11.500L4.500 8Z" fill="#444"/><path d="M8 1v3.500M8 11.500V15M1 8h3.500M11.500 8H15" stroke="#333" stroke-width="1.300"/></svg><div class="t" style="left:286.5px;top:819.9px;font-size:11.6px;color:#1f1f1f;font-weight:400;">192.168.1.13</div><div class="t" style="left:448.2px;top:819.9px;font-size:11.6px;color:#1f1f1f;font-weight:400;">00:11:22:33:45:30</div><div class="t" style="left:611.7px;top:819.9px;font-size:11.6px;color:#1f1f1f;font-weight:400;">DAP-X2810</div><div class="t" style="left:775.5px;top:819.9px;font-size:11.6px;color:#1f1f1f;font-weight:400;">v1.0.0</div><div class="t" style="left:939.0px;top:819.9px;font-size:11.6px;color:#1f1f1f;font-weight:400;">Location_12</div><div class="t" style="left:1102.8px;top:819.9px;font-size:11.6px;color:#1f1f1f;font-weight:400;">D-Link_Network</div><div class="t" style="left:1266.9px;top:819.9px;font-size:11.6px;color:#1f1f1f;font-weight:400;">Nuclias Connect</div><div class="t" style="left:1430.7px;top:819.9px;font-size:11.6px;color:#1f1f1f;font-weight:400;">2</div><div class="t" style="left:1594.2px;top:819.9px;font-size:11.6px;color:#1f1f1f;font-weight:400;">40</div><div class="t" style="left:1758.3px;top:819.9px;font-size:11.6px;color:#1f1f1f;font-weight:400;">4/0</div><div style="left:57.6px;top:837.4px;width:1851.6px;height:38.2px;background:#f5f5f5;border-bottom:1.2px solid #e3e4e6"></div><div class="t" style="left:69.9px;top:858.0px;font-size:11.6px;color:#222;font-weight:400;">14</div><div style="left:120.9px;top:849.2px;width:16.2px;height:16.2px;background:#a4c22f;border-radius:50%"></div><svg class="abs" style="left:208.8px;top:849.8px;" width="14.4" height="14.4" viewBox="0 0 16 16"><path d="M8 1L15 8L8 15L1 8Z" fill="#fff" stroke="#333" stroke-width="1.800"/><path d="M8 4.500L11.500 8L8 11.500L4.500 8Z" fill="#444"/><path d="M8 1v3.500M8 11.500V15M1 8h3.500M11.500 8H15" stroke="#333" stroke-width="1.300"/></svg><div class="t" style="left:286.5px;top:858.0px;font-size:11.6px;color:#1f1f1f;font-weight:400;">192.168.1.14</div><div class="t" style="left:448.2px;top:858.0px;font-size:11.6px;color:#1f1f1f;font-weight:400;">00:11:22:33:45:48</div><div class="t" style="left:611.7px;top:858.0px;font-size:11.6px;color:#1f1f1f;font-weight:400;">DAP-X2810</div><div class="t" style="left:775.5px;top:858.0px;font-size:11.6px;color:#1f1f1f;font-weight:400;">v1.0.0</div><div class="t" style="left:939.0px;top:858.0px;font-size:11.6px;color:#1f1f1f;font-weight:400;">Location_13</div><div class="t" style="left:1102.8px;top:858.0px;font-size:11.6px;color:#1f1f1f;font-weight:400;">D-Link_Network</div><div class="t" style="left:1266.9px;top:858.0px;font-size:11.6px;color:#1f1f1f;font-weight:400;">Nuclias Connect</div><div class="t" style="left:1430.7px;top:858.0px;font-size:11.6px;color:#1f1f1f;font-weight:400;">3</div><div class="t" style="left:1594.2px;top:858.0px;font-size:11.6px;color:#1f1f1f;font-weight:400;">52</div><div class="t" style="left:1758.3px;top:858.0px;font-size:11.6px;color:#1f1f1f;font-weight:400;">4/0</div><div style="left:57.6px;top:875.6px;width:1851.6px;height:38.2px;background:#fff;border-bottom:1.2px solid #e3e4e6"></div><div class="t" style="left:69.9px;top:896.2px;font-size:11.6px;color:#222;font-weight:400;">15</div><div style="left:120.9px;top:887.4px;width:16.2px;height:16.2px;background:#a4c22f;border-radius:50%"></div><svg class="abs" style="left:208.8px;top:888.0px;" width="14.4" height="14.4" viewBox="0 0 16 16"><path d="M8 1L15 8L8 15L1 8Z" fill="#fff" stroke="#333" stroke-width="1.800"/><path d="M8 4.500L11.500 8L8 11.500L4.500 8Z" fill="#444"/><path d="M8 1v3.500M8 11.500V15M1 8h3.500M11.500 8H15" stroke="#333" stroke-width="1.300"/></svg><div class="t" style="left:286.5px;top:896.2px;font-size:11.6px;color:#1f1f1f;font-weight:400;">192.168.1.15</div><div class="t" style="left:448.2px;top:896.2px;font-size:11.6px;color:#1f1f1f;font-weight:400;">00:11:22:33:45:60</div><div class="t" style="left:611.7px;top:896.2px;font-size:11.6px;color:#1f1f1f;font-weight:400;">DAP-X2810</div><div class="t" style="left:775.5px;top:896.2px;font-size:11.6px;color:#1f1f1f;font-weight:400;">v1.0.0</div><div class="t" style="left:939.0px;top:896.2px;font-size:11.6px;color:#1f1f1f;font-weight:400;">Location_14</div><div class="t" style="left:1102.8px;top:896.2px;font-size:11.6px;color:#1f1f1f;font-weight:400;">D-Link_Network</div><div class="t" style="left:1266.9px;top:896.2px;font-size:11.6px;color:#1f1f1f;font-weight:400;">Nuclias Connect</div><div class="t" style="left:1430.7px;top:896.2px;font-size:11.6px;color:#1f1f1f;font-weight:400;">13</div><div class="t" style="left:1594.2px;top:896.2px;font-size:11.6px;color:#1f1f1f;font-weight:400;">36</div><div class="t" style="left:1758.3px;top:896.2px;font-size:11.6px;color:#1f1f1f;font-weight:400;">3/0</div><div style="left:57.6px;top:913.8px;width:1851.6px;height:38.2px;background:#f5f5f5;border-bottom:1.2px solid #e3e4e6"></div><div class="t" style="left:69.9px;top:934.4px;font-size:11.6px;color:#222;font-weight:400;">16</div><div style="left:120.9px;top:925.5px;width:16.2px;height:16.2px;background:#a4c22f;border-radius:50%"></div><svg class="abs" style="left:208.8px;top:926.1px;" width="14.4" height="14.4" viewBox="0 0 16 16"><path d="M8 1L15 8L8 15L1 8Z" fill="#fff" stroke="#333" stroke-width="1.800"/><path d="M8 4.500L11.500 8L8 11.500L4.500 8Z" fill="#444"/><path d="M8 1v3.500M8 11.500V15M1 8h3.500M11.500 8H15" stroke="#333" stroke-width="1.300"/></svg><div class="t" style="left:286.5px;top:934.4px;font-size:11.6px;color:#1f1f1f;font-weight:400;">192.168.1.16</div><div class="t" style="left:448.2px;top:934.4px;font-size:11.6px;color:#1f1f1f;font-weight:400;">00:11:22:33:45:78</div><div class="t" style="left:611.7px;top:934.4px;font-size:11.6px;color:#1f1f1f;font-weight:400;">DAP-X2810</div><div class="t" style="left:775.5px;top:934.4px;font-size:11.6px;color:#1f1f1f;font-weight:400;">v1.0.0</div><div class="t" style="left:939.0px;top:934.4px;font-size:11.6px;color:#1f1f1f;font-weight:400;">Location_15</div><div class="t" style="left:1102.8px;top:934.4px;font-size:11.6px;color:#1f1f1f;font-weight:400;">D-Link_Network</div><div class="t" style="left:1266.9px;top:934.4px;font-size:11.6px;color:#1f1f1f;font-weight:400;">Nuclias Connect</div><div class="t" style="left:1430.7px;top:934.4px;font-size:11.6px;color:#1f1f1f;font-weight:400;">9</div><div class="t" style="left:1594.2px;top:934.4px;font-size:11.6px;color:#1f1f1f;font-weight:400;">44</div><div class="t" style="left:1758.3px;top:934.4px;font-size:11.6px;color:#1f1f1f;font-weight:400;">1/0</div><div style="left:57.6px;top:952.0px;width:1851.6px;height:38.2px;background:#fff;border-bottom:1.2px solid #e3e4e6"></div><div class="t" style="left:69.9px;top:972.6px;font-size:11.6px;color:#222;font-weight:400;">17</div><div style="left:120.9px;top:963.7px;width:16.2px;height:16.2px;background:#a4c22f;border-radius:50%"></div><svg class="abs" style="left:208.8px;top:964.3px;" width="14.4" height="14.4" viewBox="0 0 16 16"><path d="M8 1L15 8L8 15L1 8Z" fill="#fff" stroke="#333" stroke-width="1.800"/><path d="M8 4.500L11.500 8L8 11.500L4.500 8Z" fill="#444"/><path d="M8 1v3.500M8 11.500V15M1 8h3.500M11.500 8H15" stroke="#333" stroke-width="1.300"/></svg><div class="t" style="left:286.5px;top:972.6px;font-size:11.6px;color:#1f1f1f;font-weight:400;">192.168.1.17</div><div class="t" style="left:448.2px;top:972.6px;font-size:11.6px;color:#1f1f1f;font-weight:400;">00:11:22:33:45:90</div><div class="t" style="left:611.7px;top:972.6px;font-size:11.6px;color:#1f1f1f;font-weight:400;">DAP-X2810</div><div class="t" style="left:775.5px;top:972.6px;font-size:11.6px;color:#1f1f1f;font-weight:400;">v1.0.0</div><div class="t" style="left:939.0px;top:972.6px;font-size:11.6px;color:#1f1f1f;font-weight:400;">Location_16</div><div class="t" style="left:1102.8px;top:972.6px;font-size:11.6px;color:#1f1f1f;font-weight:400;">D-Link_Network</div><div class="t" style="left:1266.9px;top:972.6px;font-size:11.6px;color:#1f1f1f;font-weight:400;">Nuclias Connect</div><div class="t" style="left:1430.7px;top:972.6px;font-size:11.6px;color:#1f1f1f;font-weight:400;">10</div><div class="t" style="left:1594.2px;top:972.6px;font-size:11.6px;color:#1f1f1f;font-weight:400;">64</div><div class="t" style="left:1758.3px;top:972.6px;font-size:11.6px;color:#1f1f1f;font-weight:400;">4/0</div><div style="left:1909.2px;top:340.2px;width:9.9px;height:650.1px;background:#f1f1f1"></div><div style="left:1909.5px;top:340.2px;width:9.3px;height:550.8px;background:#d4d4d4"></div><div class="t" style="left:57.9px;top:1014.3px;font-size:12.6px;color:#b3b8c4;font-weight:400;">1 - 20 of 54 total items : 54</div><div style="left:1527.6px;top:997.5px;width:33.9px;height:31.8px;background:#f6f7f8;border-radius:3px"></div><div class="tc" style="left:1544.6px;top:1013.4px;font-size:16px;color:#a3a6ab;font-weight:400;">&#8810;</div><div style="left:1571.4px;top:997.5px;width:33.0px;height:31.8px;background:#f6f7f8;border-radius:3px"></div><div class="tc" style="left:1587.9px;top:1013.4px;font-size:16px;color:#a3a6ab;font-weight:400;">&lt;</div><div style="left:1612.8px;top:997.5px;width:42.3px;height:31.8px;background:#fff;border:1.6px solid #d3d6db;border-radius:5px"></div><div class="tc" style="left:1633.8px;top:1014.3px;font-size:12.4px;color:#ea7a2e;font-weight:400;">1</div><div class="t" style="left:1663.5px;top:1014.3px;font-size:12.6px;color:#333;font-weight:400;">/ 3</div><div style="left:1694.1px;top:997.5px;width:32.7px;height:31.8px;background:#f6f7f8;border-radius:3px"></div><div class="tc" style="left:1710.3px;top:1013.4px;font-size:16px;color:#555;font-weight:400;">&gt;</div><div style="left:1736.1px;top:997.5px;width:34.2px;height:31.8px;background:#f6f7f8;border-radius:3px"></div><div class="tc" style="left:1753.2px;top:1013.4px;font-size:16px;color:#555;font-weight:400;">&#8811;</div><div style="left:1779.0px;top:997.5px;width:52.5px;height:31.8px;background:#fff;border:1.6px solid #d3d6db;border-radius:5px"></div><div class="t" style="left:1789.8px;top:1014.3px;font-size:12.4px;color:#333;font-weight:400;">20</div><div style="left:1812.6px;top:1012.5px;width:0;height:0;border-left:3.9px solid transparent;border-right:3.9px solid transparent;border-top:4.2px solid #333"></div><div class="t" style="left:1840.2px;top:1014.3px;font-size:12.1px;color:#b3b8c4;font-weight:400;">items per page</div></div></div>
<svg class="abs" style="left:0;top:0;pointer-events:none" width="1503" height="533" viewBox="0 0 1503 533"><defs><linearGradient id="c28" gradientUnits="userSpaceOnUse" x1="28.4" y1="0" x2="721.6" y2="0"><stop offset="0" stop-color="#cecece"/><stop offset="0.12" stop-color="#d1d1d1"/><stop offset="0.38" stop-color="#d8d9d8"/><stop offset="0.5" stop-color="#dadbda"/><stop offset="0.7" stop-color="#d6d6d6"/><stop offset="1" stop-color="#cfcfcf"/></linearGradient><linearGradient id="c28t" gradientUnits="userSpaceOnUse" x1="0" y1="406.6" x2="0" y2="409.6"><stop offset="0" stop-color="#ececec" stop-opacity=".9"/><stop offset="1" stop-color="#ececec" stop-opacity="0"/></linearGradient></defs><path d="M28.4 406.1H721.6V471.8A13.0 13.0 0 0 1 708.6 484.8H41.4A13.0 13.0 0 0 1 28.4 471.8Z" fill="url(#c28)"/><rect x="28.4" y="406.6" width="693.2" height="3" fill="url(#c28t)"/><path d="M28.4 406.6V17.5A12.5 12.5 0 0 1 40.9 5.0H709.1A12.5 12.5 0 0 1 721.6 17.5V406.6ZM46.8 26.2H704.5Q705.3 26.2 705.3 27.0V388.09999999999997Q705.3 388.9 704.5 388.9H46.8Q46.0 388.9 46.0 388.09999999999997V27.0Q46.0 26.2 46.8 26.2Z" fill="#3c3c3c" fill-rule="evenodd"/></svg>
<svg class="abs" style="left:1054.0px;top:484.6px" width="137.2" height="49.4" viewBox="1054.0 484.6 137.2 49.4"><defs><linearGradient id="g776" x1="0" y1="0" x2="0" y2="1"><stop offset="0" stop-color="#8f8f8f"/><stop offset="0.07" stop-color="#a2a2a3"/><stop offset="0.35" stop-color="#b3b3b5"/><stop offset="0.75" stop-color="#c3c3c7"/><stop offset="1" stop-color="#cbcbce"/></linearGradient><linearGradient id="g776h" x1="0" y1="0" x2="1" y2="0"><stop offset="0" stop-color="#fff" stop-opacity=".55"/><stop offset="0.07" stop-color="#fff" stop-opacity="0"/><stop offset="0.93" stop-color="#fff" stop-opacity="0"/><stop offset="1" stop-color="#fff" stop-opacity=".55"/></linearGradient></defs><polygon points="1059.9,484.6 1185.5,484.6 1189.2,534 1056.0,534" fill="url(#g776)"/><polygon points="1059.9,484.6 1185.5,484.6 1189.2,534 1056.0,534" fill="url(#g776h)"/></svg>
<div class="screen" style="left:794px;top:25px;width:657px;height:365px"><div class="ui" style="width:1964px;height:1087px;transform:translate(1.00px,1.30px) scale(0.333333)"><div style="left:188.1px;top:0.0px;width:1775.4px;height:43.2px;background:#fff;border-bottom:1.5px solid #dfe3ec"></div><div class="t" style="left:220.5px;top:21.6px;font-size:17.8px;color:#3a4d7c;font-weight:400;">Nuclias Connect</div><div class="t" style="left:1603.2px;top:28.8px;font-size:22.5px;color:#1f2a63;font-weight:700;letter-spacing:-0.2px">09:24:11</div><div class="t" style="left:1700.4px;top:30.3px;font-size:12.4px;color:#3a4d7c;font-weight:400;">2025-06-03</div><div style="left:1775.5px;top:8.1px;width:0.9px;height:30.0px;background:#e6e8ec"></div><div style="left:1837.3px;top:8.1px;width:0.9px;height:30.0px;background:#e6e8ec"></div><div style="left:1899.1px;top:8.1px;width:0.9px;height:30.0px;background:#e6e8ec"></div><svg class="abs" style="left:1797.6px;top:14.1px;" width="18.6" height="19.8" viewBox="0 0 20 21"><path d="M10 3.500c-3.200 0-5 2.400-5 5.400v3.800l-1.700 2.400h13.400l-1.700-2.400V8.900c0-3-1.800-5.400-5-5.400z" fill="none" stroke="#9aa0a8" stroke-width="1.500"/><path d="M8 17.300a2 2 0 0 0 4 0" fill="none" stroke="#9aa0a8" stroke-width="1.400"/></svg><div style="left:1806.6px;top:5.7px;width:12.9px;height:12.9px;background:#f0742a;border-radius:50%"></div><div class="tc" style="left:1813.0px;top:12.3px;font-size:7.5px;color:#fff;font-weight:700;">0</div><div style="left:1853.7px;top:9.3px;width:27.6px;height:27.6px;background:#fff;border:1.5px solid #dfe3ea;border-radius:50%"></div><svg class="abs" style="left:1857.9px;top:12.9px;" width="19.2" height="21.6" viewBox="0 0 22 24"><circle cx="11" cy="7.300" r="4.600" fill="#58abee"/><path d="M2.200 21.500c0-5 3.600-8 8.800-8s8.800 3 8.800 8z" fill="#58abee"/><path d="M11 13.500l-2.200 5.500 2.200 2.500 2.200-2.500z" fill="#fff"/></svg><div class="t" style="left:1914.0px;top:23.4px;font-size:10px;color:#8a8f98;font-weight:400;">EN <span class="i" style="font-size:7px;color:#555">&#9660;</span></div><div style="left:0.0px;top:0.0px;width:188.1px;height:1086.9px;background:#fff;border-right:1.2px solid #e4e7ee"></div><div style="left:0.0px;top:0.0px;width:188.1px;height:43.5px;background:#1b2565"></div><svg class="abs" style="left:14.7px;top:11.1px;" width="11.1" height="14.4" viewBox="0 0 12 16"><path d="M9 1 L2 8 L9 15" fill="none" stroke="#f2b632" stroke-width="3.200"/><path d="M2 8 L9 15" fill="none" stroke="#e6215a" stroke-width="3.200"/><path d="M9.500 0.500 L6.500 3.500" fill="none" stroke="#2a8fd6" stroke-width="3"/></svg><div class="t" style="left:28.5px;top:17.7px;font-size:17.2px;color:#fff;font-weight:700;letter-spacing:-0.3px">nuclias</div><div class="t" style="left:44.4px;top:33.3px;font-size:9.5px;color:#4f9488;font-weight:400;letter-spacing:1.1px">connect</div><div style="left:0.0px;top:43.5px;width:188.4px;height:54.6px;background:#e6195a"></div><svg class="abs" style="left:15.9px;top:57.3px;" width="24.6" height="24.6" viewBox="0 0 24 24"><circle cx="12" cy="12" r="10.300" fill="none" stroke="#fff" stroke-width="1.800"/><path d="M6.500 13.500a5.500 5.500 0 0 1 11 0" fill="none" stroke="#fff" stroke-width="1.600"/><path d="M12 9.500l1.600 5.500h-3.200z" fill="#fff"/></svg><div class="t" style="left:48.6px;top:72.0px;font-size:11.3px;color:#fff;font-weight:700;">Dashboard</div><svg class="abs" style="left:16.5px;top:114.6px;" width="24.6" height="24.6" viewBox="0 0 24 24"><g fill="none" stroke="#8d9096" stroke-width="1.300"><rect x="2" y="3" width="20" height="13" rx="1"/><path d="M8 21h8M12 16v5M4 12l4-4 3 3 4-5 5 4"/><rect x="14" y="9" width="9" height="11" rx="1" fill="#fff"/></g></svg><div class="t" style="left:49.2px;top:127.5px;font-size:12.2px;color:#46629c;font-weight:400;-webkit-text-stroke:0">Monitor</div><div class="tc" style="left:162.0px;top:126.9px;font-size:13px;color:#777;font-weight:400;">&#8250;</div><div style="left:3.0px;top:154.9px;width:183.9px;height:1.2px;background:#eceef2"></div><svg class="abs" style="left:16.5px;top:172.2px;" width="24.6" height="24.6" viewBox="0 0 24 24"><g fill="none" stroke="#8d9096" stroke-width="1.300"><circle cx="12" cy="4" r="2.200" fill="#444"/><path d="M12 6.500v7M4 19v-5.500h16V19M12 13.500V19"/><circle cx="4" cy="20" r="2.300"/><circle cx="12" cy="20" r="2.300"/><circle cx="20" cy="20" r="2.300"/></g></svg><div class="t" style="left:49.2px;top:185.1px;font-size:12.2px;color:#46629c;font-weight:400;-webkit-text-stroke:0">Topology</div><div style="left:3.0px;top:212.5px;width:183.9px;height:1.2px;background:#eceef2"></div><svg class="abs" style="left:16.5px;top:229.5px;" width="24.6" height="24.6" viewBox="0 0 24 24"><g fill="none" stroke="#8d9096" stroke-width="1.300"><ellipse cx="12" cy="6.500" rx="10" ry="4.500"/><path d="M2 6.500v5.500c0 2.500 4.500 4.500 10 4.500s10-2 10-4.500V6.500M2 12v5.500c0 2.500 4.500 4.500 10 4.500s10-2 10-4.500V12"/></g></svg><div class="t" style="left:49.2px;top:242.4px;font-size:12.2px;color:#46629c;font-weight:400;-webkit-text-stroke:0">Floor Plan</div><div style="left:3.0px;top:269.9px;width:183.9px;height:1.2px;background:#eceef2"></div><svg class="abs" style="left:16.5px;top:286.5px;" width="24.6" height="24.6" viewBox="0 0 24 24"><g fill="none" stroke="#333" stroke-width="2"><path d="M4 20L20 4M4 4l6 6M14 14l6 6"/><circle cx="5" cy="5" r="1.500"/></g></svg><div class="t" style="left:49.2px;top:299.4px;font-size:12.2px;color:#46629c;font-weight:400;-webkit-text-stroke:0">Configuration</div><div class="tc" style="left:162.0px;top:298.8px;font-size:13px;color:#777;font-weight:400;">&#8250;</div><div style="left:3.0px;top:326.9px;width:183.9px;height:1.2px;background:#eceef2"></div><svg class="abs" style="left:16.5px;top:343.8px;" width="24.6" height="24.6" viewBox="0 0 24 24"><g fill="none" stroke="#8d9096" stroke-width="1.300"><rect x="3" y="4" width="18" height="17" rx="1.500"/><path d="M8 2v4M16 2v4M7 16l3-3 3 2 4-5"/></g></svg><div class="t" style="left:49.2px;top:356.7px;font-size:12.2px;color:#46629c;font-weight:400;-webkit-text-stroke:0">Report</div><div class="tc" style="left:162.0px;top:356.1px;font-size:13px;color:#777;font-weight:400;">&#8250;</div><div style="left:3.0px;top:384.1px;width:183.9px;height:1.2px;background:#eceef2"></div><svg class="abs" style="left:16.5px;top:401.4px;" width="24.6" height="24.6" viewBox="0 0 24 24"><g fill="none" stroke="#8d9096" stroke-width="1.300"><rect x="3" y="5" width="18" height="16" rx="1.500"/><path d="M8 2v5M12 2v5M16 2v5M7 12h4v5H7zM14 13h4M14 16h4"/></g></svg><div class="t" style="left:49.2px;top:414.3px;font-size:12.2px;color:#46629c;font-weight:400;-webkit-text-stroke:0">Log</div><div class="tc" style="left:162.0px;top:413.7px;font-size:13px;color:#777;font-weight:400;">&#8250;</div><div style="left:3.0px;top:441.7px;width:183.9px;height:1.2px;background:#eceef2"></div><svg class="abs" style="left:16.5px;top:458.7px;" width="24.6" height="24.6" viewBox="0 0 24 24"><g fill="none" stroke="#8d9096" stroke-width="1.300"><rect x="2" y="3" width="20" height="14" rx="1.500"/><path d="M7 17l-1 4h7"/><circle cx="18" cy="18" r="3.500" fill="#fff"/></g></svg><div class="t" style="left:49.2px;top:471.6px;font-size:12.2px;color:#46629c;font-weight:400;-webkit-text-stroke:0">System</div><div class="tc" style="left:162.0px;top:471.0px;font-size:13px;color:#777;font-weight:400;">&#8250;</div><div style="left:3.0px;top:499.0px;width:183.9px;height:1.2px;background:#eceef2"></div><div style="left:213.0px;top:67.8px;width:564.0px;height:87.0px;background:#fff;border-radius:4px;box-shadow:0 1px 5px rgba(120,135,170,.15)"></div><div style="left:786.0px;top:67.8px;width:564.3px;height:87.0px;background:#fff;border-radius:4px;box-shadow:0 1px 5px rgba(120,135,170,.15)"></div><div style="left:1359.0px;top:67.8px;width:565.5px;height:87.0px;background:#fff;border-radius:4px;box-shadow:0 1px 5px rgba(120,135,170,.15)"></div><svg class="abs" style="left:222.9px;top:94.5px;" width="36.0" height="35.1" viewBox="0 0 48 40"><g fill="none" stroke="#cfd1d4" stroke-width="1.800"><ellipse cx="24" cy="7" rx="7" ry="5.500"/><path d="M24 12.500v7M8 26v-6.500h32V26M24 19.500V26"/><ellipse cx="8" cy="32" rx="6.500" ry="5.500"/><ellipse cx="24" cy="32" rx="6.500" ry="5.500"/><ellipse cx="40" cy="32" rx="6.500" ry="5.500"/></g></svg><div class="t" style="left:277.8px;top:102.3px;font-size:22px;color:#2b3a6b;font-weight:700;">1</div><div class="t" style="left:266.4px;top:128.1px;font-size:11.5px;color:#9a9da3;font-weight:400;">Sites</div><svg class="abs" style="left:673.8px;top:95.1px;" width="34.2" height="34.2" viewBox="0 0 40 40"><g fill="none" stroke="#cfd1d4" stroke-width="1.800"><circle cx="20" cy="20" r="17.500"/><path d="M10 8c3 4 9 3 10 8s-6 6-4 11 8 4 10 9M26 6c-2 4 2 7 6 8s5 5 4 9"/></g></svg><div class="tr" style="left:765.9px;top:102.3px;font-size:22px;color:#a3c52e;font-weight:400;">1</div><div class="tr" style="left:767.4px;top:128.1px;font-size:11.5px;color:#9a9da3;font-weight:400;">Networks</div><svg class="abs" style="left:795.0px;top:93.9px;" width="36.0" height="34.2" viewBox="0 0 48 46"><g fill="none" stroke="#cfd1d4" stroke-width="1.900"><path d="M18 24a8 8 0 0 1 0-13M30 24a8 8 0 0 0 0-13M12.500 29a15 15 0 0 1 0-23M35.500 29a15 15 0 0 0 0-23"/><path d="M24 20v15"/><circle cx="24" cy="17.500" r="1.800"/><rect x="6" y="35" width="36" height="8" rx="4"/></g></svg><div class="t" style="left:864.6px;top:102.6px;font-size:22px;color:#f08a24;font-weight:400;"><span class="i" style="color:#f08a24">54</span><span class="i" style="font-size:12px;color:#8a8d92">&thinsp;/54</span></div><div class="t" style="left:839.4px;top:128.1px;font-size:11.5px;color:#9a9da3;font-weight:400;">Access Points</div><svg class="abs" style="left:1260.0px;top:95.7px;" width="36.0" height="32.4" viewBox="0 0 50 46"><g fill="#cfd1d4"><path d="M19 2c-5 0-8 3.500-8 8.500 0 4 2 9 8 9s8-5 8-9C27 5.500 24 2 19 2z"/><path d="M2 38V31c0-3 2-4.500 5-5.500l6-2 6 8 6-8 6 2c3 1 5 2.500 5 5.500v7l-17 7z"/><ellipse cx="38" cy="14" rx="4" ry="5.500"/><path d="M38 27l3-3 4 1.500c2 .800 3 2 3 4V35l-6 3v-7z"/></g></svg><div class="tr" style="left:1341.3px;top:102.3px;font-size:22px;color:#a3c52e;font-weight:400;">90</div><div class="tr" style="left:1341.3px;top:128.1px;font-size:11.5px;color:#9a9da3;font-weight:400;">Clients</div><svg class="abs" style="left:1368.6px;top:93.3px;" width="36.3" height="34.2" viewBox="0 0 52 50"><g fill="none" stroke="#cfd1d4" stroke-width="2"><path d="M9 2h34c2 0 3 1 3.300 3L50 29v15c0 2-1 3-3 3H5c-2 0-3-1-3-3V29L5.700 5C6 3 7 2 9 2z"/><path d="M3 30h46M3 45h46"/><path d="M13 11h7c5 0 7 12 12 12h7M13 23h7c5 0 7-12 12-12h7"/><path d="M9 37.500h5M24 37.500h3M30 37.500h3M36 37.500h3M42 37.500h3" stroke-width="3"/></g></svg><div class="t" style="left:1433.7px;top:102.6px;font-size:22px;color:#f08a24;font-weight:400;"><span class="i" style="color:#f08a24">5</span><span class="i" style="font-size:12px;color:#8a8d92">&thinsp;/5</span></div><div class="t" style="left:1412.4px;top:128.1px;font-size:11.5px;color:#9a9da3;font-weight:400;">Switches</div><svg class="abs" style="left:1834.8px;top:95.7px;" width="36.0" height="32.4" viewBox="0 0 50 46"><g fill="#cfd1d4"><path d="M19 2c-5 0-8 3.500-8 8.500 0 4 2 9 8 9s8-5 8-9C27 5.500 24 2 19 2z"/><path d="M2 38V31c0-3 2-4.500 5-5.500l6-2 6 8 6-8 6 2c3 1 5 2.500 5 5.500v7l-17 7z"/><ellipse cx="38" cy="14" rx="4" ry="5.500"/><path d="M38 27l3-3 4 1.500c2 .800 3 2 3 4V35l-6 3v-7z"/></g></svg><div class="tr" style="left:1912.8px;top:102.3px;font-size:22px;color:#a3c52e;font-weight:400;">61</div><div class="tr" style="left:1914.0px;top:128.1px;font-size:11.5px;color:#9a9da3;font-weight:400;">Clients</div><div style="left:213.0px;top:165.6px;width:1711.5px;height:931.5px;background:#fff;border-radius:4px 4px 0 0;box-shadow:0 1px 5px rgba(120,135,170,.15)"></div><div style="left:213.0px;top:167.7px;width:1711.5px;height:43.5px;background:#f5f5f5;border-bottom:1.2px solid #ececec"></div><div style="left:213.0px;top:164.7px;width:98.7px;height:47.1px;background:#fff;border-top:5.6px solid #f5a6c3"></div><div class="t" style="left:228.0px;top:191.4px;font-size:11.6px;color:#333;font-weight:400;">Access Point</div><div class="t" style="left:327.0px;top:189.9px;font-size:11.6px;color:#8d9096;font-weight:400;">Switch</div><div style="left:229.8px;top:228.0px;width:1676.1px;height:556.8px;background:#fff;border:1.2px solid #e2e4e8;border-radius:3px"></div><div style="left:230.4px;top:228.6px;width:1674.9px;height:39.3px;background:#f7f7f8;border-bottom:1.2px solid #e6e8eb"></div><div class="t" style="left:245.7px;top:247.8px;font-size:14.5px;color:#45484e;font-weight:400;-webkit-text-stroke:0">Information from the last hour</div><div style="left:230.4px;top:315.6px;width:1674.9px;height:1.2px;background:#e9ebee"></div><div style="left:230.4px;top:548.1px;width:1674.9px;height:1.2px;background:#e9ebee"></div><div style="left:1068.9px;top:316.2px;width:1.2px;height:468.0px;background:#e9ebee"></div><div style="left:1208.7px;top:277.2px;width:163.5px;height:30.9px;background:#fff;border:1.6px solid #d3d6db;border-radius:5px"></div><div class="t" style="left:1219.5px;top:292.8px;font-size:10.6px;color:#333;font-weight:400;">Taipei</div><div style="left:1352.7px;top:291.0px;width:0;height:0;border-left:3.9px solid transparent;border-right:3.9px solid transparent;border-top:4.2px solid #333"></div><div style="left:1381.5px;top:277.2px;width:160.8px;height:30.9px;background:#fff;border:1.6px solid #d3d6db;border-radius:5px"></div><div class="t" style="left:1392.3px;top:292.8px;font-size:10.6px;color:#333;font-weight:400;">D-Link_Network</div><div style="left:1522.8px;top:291.0px;width:0;height:0;border-left:3.9px solid transparent;border-right:3.9px solid transparent;border-top:4.2px solid #333"></div><div style="left:1574.7px;top:277.2px;width:116.4px;height:30.9px;background:#fff;border:1.6px solid #d3d6db;border-radius:5px"></div><div class="t" style="left:1585.5px;top:292.8px;font-size:10.6px;color:#333;font-weight:400;">2025/06/03</div><div style="left:1671.6px;top:291.0px;width:0;height:0;border-left:3.9px solid transparent;border-right:3.9px solid transparent;border-top:4.2px solid #333"></div><div style="left:1743.6px;top:277.2px;width:81.9px;height:30.9px;background:#fff;border:1.6px solid #d3d6db;border-radius:5px"></div><div class="t" style="left:1754.4px;top:292.8px;font-size:10.6px;color:#333;font-weight:400;">09:15</div><div style="left:1806.0px;top:291.0px;width:0;height:0;border-left:3.9px solid transparent;border-right:3.9px solid transparent;border-top:4.2px solid #333"></div><div class="tc" style="left:1560.9px;top:292.5px;font-size:15px;color:#888;font-weight:400;">&lt;</div><div class="tc" style="left:1704.6px;top:292.5px;font-size:15px;color:#888;font-weight:400;">&gt;</div><div class="tc" style="left:1731.0px;top:292.5px;font-size:15px;color:#888;font-weight:400;">&lt;</div><div class="tc" style="left:1839.6px;top:292.5px;font-size:15px;color:#888;font-weight:400;">&gt;</div><div style="left:1858.2px;top:277.2px;width:30.9px;height:30.9px;background:#9b9b9b;border-radius:2px"></div><svg class="abs" style="left:1865.1px;top:283.2px;" width="17.4" height="19.2" viewBox="0 0 18 20"><path d="M3 1.500h8l4.500 4.500v12.500h-12.500z" fill="none" stroke="#fff" stroke-width="1.700"/><path d="M11 1.500v4.500h4.500" fill="none" stroke="#fff" stroke-width="1.500"/><path d="M6 10.500h6M6 14h6" stroke="#fff" stroke-width="1.300"/></svg><div style="left:229.8px;top:801.3px;width:1676.1px;height:304.8px;background:#fff;border:1.2px solid #e2e4e8;border-radius:3px"></div><div style="left:230.4px;top:801.9px;width:1674.9px;height:39.0px;background:#f7f7f8;border-bottom:1.2px solid #e6e8eb"></div><div class="t" style="left:247.2px;top:822.0px;font-size:14.4px;color:#45484e;font-weight:400;-webkit-text-stroke:0">Channel Utilization</div><div style="left:230.4px;top:1001.4px;width:1674.9px;height:1.2px;background:#e9ebee"></div><svg class="abs" style="left:0;top:0" width="1964" height="1087" viewBox="0 0 1964 1087" font-family="Liberation Sans, sans-serif"><path d="M291.9 356.1L1052.1 356.1" stroke="#e3e6f3" stroke-width="1.2" fill="none"/><text x="285.0" y="360.4" font-size="11" fill="#666" text-anchor="end" font-weight="400">100</text><path d="M291.9 379.7L1052.1 379.7" stroke="#e3e6f3" stroke-width="1.2" fill="none"/><text x="285.0" y="384.0" font-size="11" fill="#666" text-anchor="end" font-weight="400">80</text><path d="M291.9 403.3L1052.1 403.3" stroke="#e3e6f3" stroke-width="1.2" fill="none"/><text x="285.0" y="407.6" font-size="11" fill="#666" text-anchor="end" font-weight="400">60</text><path d="M291.9 426.8L1052.1 426.8" stroke="#e3e6f3" stroke-width="1.2" fill="none"/><text x="285.0" y="431.2" font-size="11" fill="#666" text-anchor="end" font-weight="400">40</text><path d="M291.9 450.4L1052.1 450.4" stroke="#e3e6f3" stroke-width="1.2" fill="none"/><text x="285.0" y="454.8" font-size="11" fill="#666" text-anchor="end" font-weight="400">20</text><path d="M291.9 474.0L1052.1 474.0" stroke="#e3e6f3" stroke-width="1.2" fill="none"/><text x="285.0" y="478.3" font-size="11" fill="#666" text-anchor="end" font-weight="400">0</text><path d="M291.9 356.1L291.9 474.0" stroke="#e3e6f3" stroke-width="1.2" fill="none"/><text x="293.1" y="483.9" font-size="10.8" fill="#666" text-anchor="end" font-weight="400" transform="rotate(-42 293.1 483.9)">08:15</text><path d="M400.5 356.1L400.5 474.0" stroke="#e3e6f3" stroke-width="1.2" fill="none"/><text x="401.7" y="483.9" font-size="10.8" fill="#666" text-anchor="end" font-weight="400" transform="rotate(-42 401.7 483.9)">08:30</text><path d="M509.1 356.1L509.1 474.0" stroke="#e3e6f3" stroke-width="1.2" fill="none"/><text x="510.3" y="483.9" font-size="10.8" fill="#666" text-anchor="end" font-weight="400" transform="rotate(-42 510.3 483.9)">08:45</text><path d="M617.7 356.1L617.7 474.0" stroke="#e3e6f3" stroke-width="1.2" fill="none"/><text x="618.9" y="483.9" font-size="10.8" fill="#666" text-anchor="end" font-weight="400" transform="rotate(-42 618.9 483.9)">09:00</text><path d="M726.3 356.1L726.3 474.0" stroke="#e3e6f3" stroke-width="1.2" fill="none"/><text x="727.5" y="483.9" font-size="10.8" fill="#666" text-anchor="end" font-weight="400" transform="rotate(-42 727.5 483.9)">09:15</text><path d="M834.9 356.1L834.9 474.0" stroke="#e3e6f3" stroke-width="1.2" fill="none"/><text x="836.1" y="483.9" font-size="10.8" fill="#666" text-anchor="end" font-weight="400" transform="rotate(-42 836.1 483.9)">09:30</text><path d="M943.5 356.1L943.5 474.0" stroke="#e3e6f3" stroke-width="1.2" fill="none"/><text x="944.7" y="483.9" font-size="10.8" fill="#666" text-anchor="end" font-weight="400" transform="rotate(-42 944.7 483.9)">09:45</text><path d="M1052.1 356.1L1052.1 474.0" stroke="#e3e6f3" stroke-width="1.2" fill="none"/><text x="1053.3" y="483.9" font-size="10.8" fill="#666" text-anchor="end" font-weight="400" transform="rotate(-42 1053.3 483.9)">10:00</text><text x="268.2" y="341.7" font-size="12.3" fill="#222" text-anchor="start" font-weight="400">Number of Clients in the Last Hour vs Number of Clients in the Past 7 Days</text><path d="M291.9 365.7L400.5 365.7L509.1 365.7L617.7 365.7L726.3 365.7L834.9 365.7L943.5 365.7L1052.1 365.7" fill="none" stroke="#3b4f80" stroke-width="1.8" stroke-linejoin="round"/><circle cx="291.9" cy="365.7" r="2.100" fill="#3b4f80"/><circle cx="400.5" cy="365.7" r="2.100" fill="#3b4f80"/><circle cx="509.1" cy="365.7" r="2.100" fill="#3b4f80"/><circle cx="617.7" cy="365.7" r="2.100" fill="#3b4f80"/><circle cx="726.3" cy="365.7" r="2.100" fill="#3b4f80"/><circle cx="834.9" cy="365.7" r="2.100" fill="#3b4f80"/><circle cx="943.5" cy="365.7" r="2.100" fill="#3b4f80"/><circle cx="1052.1" cy="365.7" r="2.100" fill="#3b4f80"/><path d="M291.9 365.4L400.5 365.4L509.1 365.4L617.7 364.6L726.3 364.6" fill="none" stroke="#22a7d6" stroke-width="2.2" stroke-linejoin="round"/><circle cx="291.9" cy="365.4" r="2.100" fill="#22a7d6"/><circle cx="400.5" cy="365.4" r="2.100" fill="#22a7d6"/><circle cx="509.1" cy="365.4" r="2.100" fill="#22a7d6"/><circle cx="617.7" cy="364.6" r="2.100" fill="#22a7d6"/><circle cx="726.3" cy="364.6" r="2.100" fill="#22a7d6"/><rect x="801.9" y="520.2" width="24.6" height="13.2" fill="#f0901e"/><text x="833.1" y="531.1" font-size="12.4" fill="#333" text-anchor="start" font-weight="400">Average</text><rect x="889.8" y="520.2" width="24.6" height="13.2" fill="#3b4f80"/><text x="920.7" y="531.1" font-size="12.4" fill="#333" text-anchor="start" font-weight="400">High</text><rect x="959.1" y="520.2" width="24.6" height="13.2" fill="#22a7d6"/><text x="990.0" y="531.1" font-size="12.4" fill="#333" text-anchor="start" font-weight="400">Last Hour</text><path d="M1114.5 356.1L1888.5 356.1" stroke="#e3e6f3" stroke-width="1.2" fill="none"/><text x="1107.6" y="360.4" font-size="11" fill="#666" text-anchor="end" font-weight="400">2</text><path d="M1114.5 414.3L1888.5 414.3" stroke="#e3e6f3" stroke-width="1.2" fill="none"/><text x="1107.6" y="418.6" font-size="11" fill="#666" text-anchor="end" font-weight="400">1</text><path d="M1114.5 472.5L1888.5 472.5" stroke="#e3e6f3" stroke-width="1.2" fill="none"/><text x="1107.6" y="476.8" font-size="11" fill="#666" text-anchor="end" font-weight="400">0</text><path d="M1114.5 356.1L1114.5 472.5" stroke="#e3e6f3" stroke-width="1.2" fill="none"/><text x="1115.7" y="482.4" font-size="10.8" fill="#666" text-anchor="end" font-weight="400" transform="rotate(-42 1115.7 482.4)">08:15</text><path d="M1225.1 356.1L1225.1 472.5" stroke="#e3e6f3" stroke-width="1.2" fill="none"/><text x="1226.3" y="482.4" font-size="10.8" fill="#666" text-anchor="end" font-weight="400" transform="rotate(-42 1226.3 482.4)">08:30</text><path d="M1335.6 356.1L1335.6 472.5" stroke="#e3e6f3" stroke-width="1.2" fill="none"/><text x="1336.8" y="482.4" font-size="10.8" fill="#666" text-anchor="end" font-weight="400" transform="rotate(-42 1336.8 482.4)">08:45</text><path d="M1446.2 356.1L1446.2 472.5" stroke="#e3e6f3" stroke-width="1.2" fill="none"/><text x="1447.4" y="482.4" font-size="10.8" fill="#666" text-anchor="end" font-weight="400" transform="rotate(-42 1447.4 482.4)">09:00</text><path d="M1556.8 356.1L1556.8 472.5" stroke="#e3e6f3" stroke-width="1.2" fill="none"/><text x="1558.0" y="482.4" font-size="10.8" fill="#666" text-anchor="end" font-weight="400" transform="rotate(-42 1558.0 482.4)">09:15</text><path d="M1667.4 356.1L1667.4 472.5" stroke="#e3e6f3" stroke-width="1.2" fill="none"/><text x="1668.6" y="482.4" font-size="10.8" fill="#666" text-anchor="end" font-weight="400" transform="rotate(-42 1668.6 482.4)">09:30</text><path d="M1777.9 356.1L1777.9 472.5" stroke="#e3e6f3" stroke-width="1.2" fill="none"/><text x="1779.1" y="482.4" font-size="10.8" fill="#666" text-anchor="end" font-weight="400" transform="rotate(-42 1779.1 482.4)">09:45</text><path d="M1888.5 356.1L1888.5 472.5" stroke="#e3e6f3" stroke-width="1.2" fill="none"/><text x="1889.7" y="482.4" font-size="10.8" fill="#666" text-anchor="end" font-weight="400" transform="rotate(-42 1889.7 482.4)">10:00</text><text x="1106.4" y="341.7" font-size="12.3" fill="#222" text-anchor="start" font-weight="400">Traffic Usage in the Last Hour  vs Traffic Usage in the Past 7 Days (MB)</text><path d="M1114.5 413.7L1225.1 413.4L1335.6 413.1L1446.2 413.1L1556.8 413.1L1667.4 413.1L1777.9 413.1L1888.5 413.1" fill="none" stroke="#f0901e" stroke-width="2.2" stroke-linejoin="round"/><circle cx="1114.5" cy="413.7" r="2.100" fill="#f0901e"/><circle cx="1225.1" cy="413.4" r="2.100" fill="#f0901e"/><circle cx="1335.6" cy="413.1" r="2.100" fill="#f0901e"/><circle cx="1446.2" cy="413.1" r="2.100" fill="#f0901e"/><circle cx="1556.8" cy="413.1" r="2.100" fill="#f0901e"/><circle cx="1667.4" cy="413.1" r="2.100" fill="#f0901e"/><circle cx="1777.9" cy="413.1" r="2.100" fill="#f0901e"/><circle cx="1888.5" cy="413.1" r="2.100" fill="#f0901e"/><path d="M1114.5 413.4L1225.1 413.1L1335.6 412.8L1446.2 412.8L1556.8 412.8L1667.4 412.8L1777.9 412.8L1888.5 412.8" fill="none" stroke="#3b4f80" stroke-width="2.2" stroke-linejoin="round"/><circle cx="1114.5" cy="413.4" r="2.100" fill="#3b4f80"/><circle cx="1225.1" cy="413.1" r="2.100" fill="#3b4f80"/><circle cx="1335.6" cy="412.8" r="2.100" fill="#3b4f80"/><circle cx="1446.2" cy="412.8" r="2.100" fill="#3b4f80"/><circle cx="1556.8" cy="412.8" r="2.100" fill="#3b4f80"/><circle cx="1667.4" cy="412.8" r="2.100" fill="#3b4f80"/><circle cx="1777.9" cy="412.8" r="2.100" fill="#3b4f80"/><circle cx="1888.5" cy="412.8" r="2.100" fill="#3b4f80"/><path d="M1114.5 413.7L1225.1 413.4L1335.6 410.1L1446.2 407.1L1556.8 405.0" fill="none" stroke="#22a7d6" stroke-width="2.4" stroke-linejoin="round"/><circle cx="1114.5" cy="413.7" r="2.100" fill="#22a7d6"/><circle cx="1225.1" cy="413.4" r="2.100" fill="#22a7d6"/><circle cx="1335.6" cy="410.1" r="2.100" fill="#22a7d6"/><circle cx="1446.2" cy="407.1" r="2.100" fill="#22a7d6"/><circle cx="1556.8" cy="405.0" r="2.100" fill="#22a7d6"/><rect x="1637.1" y="520.2" width="24.6" height="13.2" fill="#f0901e"/><text x="1669.5" y="531.1" font-size="12.4" fill="#333" text-anchor="start" font-weight="400">Average</text><rect x="1726.2" y="520.2" width="24.6" height="13.2" fill="#3b4f80"/><text x="1756.8" y="531.1" font-size="12.4" fill="#333" text-anchor="start" font-weight="400">High</text><rect x="1794.3" y="520.2" width="24.6" height="13.2" fill="#22a7d6"/><text x="1825.8" y="531.1" font-size="12.4" fill="#333" text-anchor="start" font-weight="400">Last Hour</text><path d="M301.5 589.8L1052.1 589.8" stroke="#e3e6f3" stroke-width="1.2" fill="none"/><text x="294.6" y="594.1" font-size="11" fill="#666" text-anchor="end" font-weight="400">1,400</text><path d="M301.5 606.5L1052.1 606.5" stroke="#e3e6f3" stroke-width="1.2" fill="none"/><text x="294.6" y="610.9" font-size="11" fill="#666" text-anchor="end" font-weight="400">1,200</text><path d="M301.5 623.2L1052.1 623.2" stroke="#e3e6f3" stroke-width="1.2" fill="none"/><text x="294.6" y="627.6" font-size="11" fill="#666" text-anchor="end" font-weight="400">1,000</text><path d="M301.5 639.9L1052.1 639.9" stroke="#e3e6f3" stroke-width="1.2" fill="none"/><text x="294.6" y="644.3" font-size="11" fill="#666" text-anchor="end" font-weight="400">800</text><path d="M301.5 656.7L1052.1 656.7" stroke="#e3e6f3" stroke-width="1.2" fill="none"/><text x="294.6" y="661.0" font-size="11" fill="#666" text-anchor="end" font-weight="400">600</text><path d="M301.5 673.4L1052.1 673.4" stroke="#e3e6f3" stroke-width="1.2" fill="none"/><text x="294.6" y="677.7" font-size="11" fill="#666" text-anchor="end" font-weight="400">400</text><path d="M301.5 690.1L1052.1 690.1" stroke="#e3e6f3" stroke-width="1.2" fill="none"/><text x="294.6" y="694.4" font-size="11" fill="#666" text-anchor="end" font-weight="400">200</text><path d="M301.5 706.8L1052.1 706.8" stroke="#e3e6f3" stroke-width="1.2" fill="none"/><text x="294.6" y="711.1" font-size="11" fill="#666" text-anchor="end" font-weight="400">0</text><path d="M301.5 589.8L301.5 706.8" stroke="#e3e6f3" stroke-width="1.2" fill="none"/><text x="302.7" y="716.7" font-size="10.8" fill="#666" text-anchor="end" font-weight="400" transform="rotate(-42 302.7 716.7)">08:15</text><path d="M489.1 589.8L489.1 706.8" stroke="#e3e6f3" stroke-width="1.2" fill="none"/><text x="490.3" y="716.7" font-size="10.8" fill="#666" text-anchor="end" font-weight="400" transform="rotate(-42 490.3 716.7)">08:30</text><path d="M676.8 589.8L676.8 706.8" stroke="#e3e6f3" stroke-width="1.2" fill="none"/><text x="678.0" y="716.7" font-size="10.8" fill="#666" text-anchor="end" font-weight="400" transform="rotate(-42 678.0 716.7)">08:45</text><path d="M864.5 589.8L864.5 706.8" stroke="#e3e6f3" stroke-width="1.2" fill="none"/><text x="865.7" y="716.7" font-size="10.8" fill="#666" text-anchor="end" font-weight="400" transform="rotate(-42 865.7 716.7)">09:00</text><path d="M1052.1 589.8L1052.1 706.8" stroke="#e3e6f3" stroke-width="1.2" fill="none"/><text x="1053.3" y="716.7" font-size="10.8" fill="#666" text-anchor="end" font-weight="400" transform="rotate(-42 1053.3 716.7)">09:15</text><text x="268.2" y="575.4" font-size="12.3" fill="#222" text-anchor="start" font-weight="400">Downlink/Uplink Traffic Usage in the Last Hour (KB)</text><path d="M301.5 618.3L489.1 620.1L676.8 612.0L864.5 609.0L1052.1 605.4L1052.1 663.6L864.5 663.6L676.8 663.6L489.1 664.2L301.5 663.3Z" fill="rgba(176,200,50,.17)" stroke="none"/><path d="M301.5 618.3L489.1 620.1L676.8 612.0L864.5 609.0L1052.1 605.4" fill="none" stroke="#a6c62c" stroke-width="2.2" stroke-linejoin="round"/><circle cx="301.5" cy="618.3" r="2.100" fill="#a6c62c"/><circle cx="489.1" cy="620.1" r="2.100" fill="#a6c62c"/><circle cx="676.8" cy="612.0" r="2.100" fill="#a6c62c"/><circle cx="864.5" cy="609.0" r="2.100" fill="#a6c62c"/><circle cx="1052.1" cy="605.4" r="2.100" fill="#a6c62c"/><path d="M301.5 663.3L489.1 664.2L676.8 663.6L864.5 663.6L1052.1 663.6L1052.1 706.8L301.5 706.8Z" fill="rgba(34,167,214,.14)" stroke="none"/><path d="M301.5 663.3L489.1 664.2L676.8 663.6L864.5 663.6L1052.1 663.6" fill="none" stroke="#22a7d6" stroke-width="2.2" stroke-linejoin="round"/><circle cx="301.5" cy="663.3" r="2.100" fill="#22a7d6"/><circle cx="489.1" cy="664.2" r="2.100" fill="#22a7d6"/><circle cx="676.8" cy="663.6" r="2.100" fill="#22a7d6"/><circle cx="864.5" cy="663.6" r="2.100" fill="#22a7d6"/><circle cx="1052.1" cy="663.6" r="2.100" fill="#22a7d6"/><rect x="879.3" y="753.6" width="24.6" height="13.2" fill="#22a7d6"/><text x="910.5" y="764.5" font-size="12.4" fill="#333" text-anchor="start" font-weight="400">Downlink</text><rect x="975.0" y="753.6" width="24.6" height="13.2" fill="#a6c62c"/><text x="1006.2" y="764.5" font-size="12.4" fill="#333" text-anchor="start" font-weight="400">Uplink</text><path d="M1114.5 589.8L1888.5 589.8" stroke="#e3e6f3" stroke-width="1.2" fill="none"/><text x="1107.6" y="594.1" font-size="11" fill="#666" text-anchor="end" font-weight="400">2</text><path d="M1114.5 648.0L1888.5 648.0" stroke="#e3e6f3" stroke-width="1.2" fill="none"/><text x="1107.6" y="652.3" font-size="11" fill="#666" text-anchor="end" font-weight="400">1</text><path d="M1114.5 706.2L1888.5 706.2" stroke="#e3e6f3" stroke-width="1.2" fill="none"/><text x="1107.6" y="710.5" font-size="11" fill="#666" text-anchor="end" font-weight="400">0</text><path d="M1114.5 589.8L1114.5 706.2" stroke="#e3e6f3" stroke-width="1.2" fill="none"/><text x="1115.7" y="716.1" font-size="10.8" fill="#666" text-anchor="end" font-weight="400" transform="rotate(-42 1115.7 716.1)">08:15</text><path d="M1308.0 589.8L1308.0 706.2" stroke="#e3e6f3" stroke-width="1.2" fill="none"/><text x="1309.2" y="716.1" font-size="10.8" fill="#666" text-anchor="end" font-weight="400" transform="rotate(-42 1309.2 716.1)">08:30</text><path d="M1501.5 589.8L1501.5 706.2" stroke="#e3e6f3" stroke-width="1.2" fill="none"/><text x="1502.7" y="716.1" font-size="10.8" fill="#666" text-anchor="end" font-weight="400" transform="rotate(-42 1502.7 716.1)">08:45</text><path d="M1695.0 589.8L1695.0 706.2" stroke="#e3e6f3" stroke-width="1.2" fill="none"/><text x="1696.2" y="716.1" font-size="10.8" fill="#666" text-anchor="end" font-weight="400" transform="rotate(-42 1696.2 716.1)">09:00</text><path d="M1888.5 589.8L1888.5 706.2" stroke="#e3e6f3" stroke-width="1.2" fill="none"/><text x="1889.7" y="716.1" font-size="10.8" fill="#666" text-anchor="end" font-weight="400" transform="rotate(-42 1889.7 716.1)">09:15</text><text x="1106.4" y="575.4" font-size="12.3" fill="#222" text-anchor="start" font-weight="400">Traffic Usage by SSID in the Last Hour (MB)</text><path d="M1114.5 646.8L1308.0 648.0L1501.5 642.3L1695.0 640.2L1888.5 638.4L1888.5 706.2L1114.5 706.2Z" fill="rgba(34,167,214,.14)" stroke="none"/><path d="M1114.5 646.8L1308.0 648.0L1501.5 642.3L1695.0 640.2L1888.5 638.4" fill="none" stroke="#22a7d6" stroke-width="2.4" stroke-linejoin="round"/><circle cx="1114.5" cy="646.8" r="2.100" fill="#22a7d6"/><circle cx="1308.0" cy="648.0" r="2.100" fill="#22a7d6"/><circle cx="1501.5" cy="642.3" r="2.100" fill="#22a7d6"/><circle cx="1695.0" cy="640.2" r="2.100" fill="#22a7d6"/><circle cx="1888.5" cy="638.4" r="2.100" fill="#22a7d6"/><rect x="1822.8" y="753.6" width="24.6" height="13.2" fill="#22a7d6"/><text x="1854.3" y="764.5" font-size="12.4" fill="#333" text-anchor="start" font-weight="400">dlink</text><path d="M267.6 881.4L1888.5 881.4" stroke="#e3e6f3" stroke-width="1.2" fill="none"/><text x="260.7" y="885.8" font-size="11" fill="#666" text-anchor="end" font-weight="400">30</text><path d="M267.6 907.3L1888.5 907.3" stroke="#e3e6f3" stroke-width="1.2" fill="none"/><text x="260.7" y="911.6" font-size="11" fill="#666" text-anchor="end" font-weight="400">20</text><path d="M267.6 933.2L1888.5 933.2" stroke="#e3e6f3" stroke-width="1.2" fill="none"/><text x="260.7" y="937.5" font-size="11" fill="#666" text-anchor="end" font-weight="400">10</text><path d="M267.6 959.1L1888.5 959.1" stroke="#e3e6f3" stroke-width="1.2" fill="none"/><text x="260.7" y="963.4" font-size="11" fill="#666" text-anchor="end" font-weight="400">0</text><path d="M267.6 881.4L267.6 959.1" stroke="#e3e6f3" stroke-width="1.2" fill="none"/><path d="M332.4 881.4L332.4 959.1" stroke="#e3e6f3" stroke-width="1.2" fill="none"/><path d="M397.3 881.4L397.3 959.1" stroke="#e3e6f3" stroke-width="1.2" fill="none"/><path d="M462.1 881.4L462.1 959.1" stroke="#e3e6f3" stroke-width="1.2" fill="none"/><path d="M526.9 881.4L526.9 959.1" stroke="#e3e6f3" stroke-width="1.2" fill="none"/><path d="M591.8 881.4L591.8 959.1" stroke="#e3e6f3" stroke-width="1.2" fill="none"/><path d="M656.6 881.4L656.6 959.1" stroke="#e3e6f3" stroke-width="1.2" fill="none"/><path d="M721.5 881.4L721.5 959.1" stroke="#e3e6f3" stroke-width="1.2" fill="none"/><path d="M786.3 881.4L786.3 959.1" stroke="#e3e6f3" stroke-width="1.2" fill="none"/><path d="M851.1 881.4L851.1 959.1" stroke="#e3e6f3" stroke-width="1.2" fill="none"/><path d="M916.0 881.4L916.0 959.1" stroke="#e3e6f3" stroke-width="1.2" fill="none"/><path d="M980.8 881.4L980.8 959.1" stroke="#e3e6f3" stroke-width="1.2" fill="none"/><path d="M1045.6 881.4L1045.6 959.1" stroke="#e3e6f3" stroke-width="1.2" fill="none"/><path d="M1110.5 881.4L1110.5 959.1" stroke="#e3e6f3" stroke-width="1.2" fill="none"/><path d="M1175.3 881.4L1175.3 959.1" stroke="#e3e6f3" stroke-width="1.2" fill="none"/><path d="M1240.1 881.4L1240.1 959.1" stroke="#e3e6f3" stroke-width="1.2" fill="none"/><path d="M1305.0 881.4L1305.0 959.1" stroke="#e3e6f3" stroke-width="1.2" fill="none"/><path d="M1369.8 881.4L1369.8 959.1" stroke="#e3e6f3" stroke-width="1.2" fill="none"/><path d="M1434.6 881.4L1434.6 959.1" stroke="#e3e6f3" stroke-width="1.2" fill="none"/><path d="M1499.5 881.4L1499.5 959.1" stroke="#e3e6f3" stroke-width="1.2" fill="none"/><path d="M1564.3 881.4L1564.3 959.1" stroke="#e3e6f3" stroke-width="1.2" fill="none"/><path d="M1629.2 881.4L1629.2 959.1" stroke="#e3e6f3" stroke-width="1.2" fill="none"/><path d="M1694.0 881.4L1694.0 959.1" stroke="#e3e6f3" stroke-width="1.2" fill="none"/><path d="M1758.8 881.4L1758.8 959.1" stroke="#e3e6f3" stroke-width="1.2" fill="none"/><path d="M1823.7 881.4L1823.7 959.1" stroke="#e3e6f3" stroke-width="1.2" fill="none"/><path d="M1888.5 881.4L1888.5 959.1" stroke="#e3e6f3" stroke-width="1.2" fill="none"/><text x="267.0" y="867.0" font-size="12.3" fill="#222" text-anchor="start" font-weight="400">APs on 2.4GHz Channel</text><rect x="290.1" y="941.0" width="19.8" height="18.1" fill="#1ea7d8" rx="1.500"/><text x="302.1" y="969.0" font-size="10.5" fill="#666" text-anchor="end" font-weight="400" transform="rotate(-42 302.1 969.0)">1</text><rect x="355.0" y="933.2" width="19.8" height="25.9" fill="#1ea7d8" rx="1.500"/><text x="367.0" y="969.0" font-size="10.5" fill="#666" text-anchor="end" font-weight="400" transform="rotate(-42 367.0 969.0)">2</text><rect x="419.8" y="953.4" width="19.8" height="5.7" fill="#1ea7d8" rx="1.500"/><text x="431.8" y="969.0" font-size="10.5" fill="#666" text-anchor="end" font-weight="400" transform="rotate(-42 431.8 969.0)">3</text><rect x="484.6" y="953.4" width="19.8" height="5.7" fill="#1ea7d8" rx="1.500"/><text x="496.6" y="969.0" font-size="10.5" fill="#666" text-anchor="end" font-weight="400" transform="rotate(-42 496.6 969.0)">4</text><rect x="549.5" y="955.2" width="19.8" height="3.9" fill="#1ea7d8" rx="1.500"/><text x="561.5" y="969.0" font-size="10.5" fill="#666" text-anchor="end" font-weight="400" transform="rotate(-42 561.5 969.0)">5</text><rect x="614.3" y="948.7" width="19.8" height="10.4" fill="#1ea7d8" rx="1.500"/><text x="626.3" y="969.0" font-size="10.5" fill="#666" text-anchor="end" font-weight="400" transform="rotate(-42 626.3 969.0)">6</text><rect x="679.1" y="950.8" width="19.8" height="8.3" fill="#1ea7d8" rx="1.500"/><text x="691.1" y="969.0" font-size="10.5" fill="#666" text-anchor="end" font-weight="400" transform="rotate(-42 691.1 969.0)">7</text><rect x="744.0" y="955.7" width="19.8" height="3.4" fill="#6cc6e6" rx="1.500"/><text x="756.0" y="969.0" font-size="10.5" fill="#666" text-anchor="end" font-weight="400" transform="rotate(-42 756.0 969.0)">8</text><rect x="808.8" y="950.8" width="19.8" height="8.3" fill="#1ea7d8" rx="1.500"/><text x="820.8" y="969.0" font-size="10.5" fill="#666" text-anchor="end" font-weight="400" transform="rotate(-42 820.8 969.0)">9</text><rect x="873.6" y="950.8" width="19.8" height="8.3" fill="#1ea7d8" rx="1.500"/><text x="885.6" y="969.0" font-size="10.5" fill="#666" text-anchor="end" font-weight="400" transform="rotate(-42 885.6 969.0)">10</text><rect x="938.5" y="952.9" width="19.8" height="6.2" fill="#1ea7d8" rx="1.500"/><text x="950.5" y="969.0" font-size="10.5" fill="#666" text-anchor="end" font-weight="400" transform="rotate(-42 950.5 969.0)">11</text><rect x="1003.3" y="955.0" width="19.8" height="4.1" fill="#1ea7d8" rx="1.500"/><text x="1015.3" y="969.0" font-size="10.5" fill="#666" text-anchor="end" font-weight="400" transform="rotate(-42 1015.3 969.0)">12</text><rect x="1068.1" y="950.3" width="19.8" height="8.8" fill="#1ea7d8" rx="1.500"/><text x="1080.1" y="969.0" font-size="10.5" fill="#666" text-anchor="end" font-weight="400" transform="rotate(-42 1080.1 969.0)">13</text><path d="M267.6 1042.8L1888.5 1042.8" stroke="#e3e6f3" stroke-width="1.2" fill="none"/><text x="260.7" y="1047.1" font-size="11" fill="#666" text-anchor="end" font-weight="400">30</text><path d="M267.6 1068.7L1888.5 1068.7" stroke="#e3e6f3" stroke-width="1.2" fill="none"/><text x="260.7" y="1073.0" font-size="11" fill="#666" text-anchor="end" font-weight="400">20</text><path d="M267.6 1094.6L1888.5 1094.6" stroke="#e3e6f3" stroke-width="1.2" fill="none"/><text x="260.7" y="1099.0" font-size="11" fill="#666" text-anchor="end" font-weight="400">10</text><path d="M267.6 1120.5L1888.5 1120.5" stroke="#e3e6f3" stroke-width="1.2" fill="none"/><text x="260.7" y="1124.8" font-size="11" fill="#666" text-anchor="end" font-weight="400">0</text><path d="M267.6 1042.8L267.6 1120.5" stroke="#e3e6f3" stroke-width="1.2" fill="none"/><path d="M332.4 1042.8L332.4 1120.5" stroke="#e3e6f3" stroke-width="1.2" fill="none"/><path d="M397.3 1042.8L397.3 1120.5" stroke="#e3e6f3" stroke-width="1.2" fill="none"/><path d="M462.1 1042.8L462.1 1120.5" stroke="#e3e6f3" stroke-width="1.2" fill="none"/><path d="M526.9 1042.8L526.9 1120.5" stroke="#e3e6f3" stroke-width="1.2" fill="none"/><path d="M591.8 1042.8L591.8 1120.5" stroke="#e3e6f3" stroke-width="1.2" fill="none"/><path d="M656.6 1042.8L656.6 1120.5" stroke="#e3e6f3" stroke-width="1.2" fill="none"/><path d="M721.5 1042.8L721.5 1120.5" stroke="#e3e6f3" stroke-width="1.2" fill="none"/><path d="M786.3 1042.8L786.3 1120.5" stroke="#e3e6f3" stroke-width="1.2" fill="none"/><path d="M851.1 1042.8L851.1 1120.5" stroke="#e3e6f3" stroke-width="1.2" fill="none"/><path d="M916.0 1042.8L916.0 1120.5" stroke="#e3e6f3" stroke-width="1.2" fill="none"/><path d="M980.8 1042.8L980.8 1120.5" stroke="#e3e6f3" stroke-width="1.2" fill="none"/><path d="M1045.6 1042.8L1045.6 1120.5" stroke="#e3e6f3" stroke-width="1.2" fill="none"/><path d="M1110.5 1042.8L1110.5 1120.5" stroke="#e3e6f3" stroke-width="1.2" fill="none"/><path d="M1175.3 1042.8L1175.3 1120.5" stroke="#e3e6f3" stroke-width="1.2" fill="none"/><path d="M1240.1 1042.8L1240.1 1120.5" stroke="#e3e6f3" stroke-width="1.2" fill="none"/><path d="M1305.0 1042.8L1305.0 1120.5" stroke="#e3e6f3" stroke-width="1.2" fill="none"/><path d="M1369.8 1042.8L1369.8 1120.5" stroke="#e3e6f3" stroke-width="1.2" fill="none"/><path d="M1434.6 1042.8L1434.6 1120.5" stroke="#e3e6f3" stroke-width="1.2" fill="none"/><path d="M1499.5 1042.8L1499.5 1120.5" stroke="#e3e6f3" stroke-width="1.2" fill="none"/><path d="M1564.3 1042.8L1564.3 1120.5" stroke="#e3e6f3" stroke-width="1.2" fill="none"/><path d="M1629.2 1042.8L1629.2 1120.5" stroke="#e3e6f3" stroke-width="1.2" fill="none"/><path d="M1694.0 1042.8L1694.0 1120.5" stroke="#e3e6f3" stroke-width="1.2" fill="none"/><path d="M1758.8 1042.8L1758.8 1120.5" stroke="#e3e6f3" stroke-width="1.2" fill="none"/><path d="M1823.7 1042.8L1823.7 1120.5" stroke="#e3e6f3" stroke-width="1.2" fill="none"/><path d="M1888.5 1042.8L1888.5 1120.5" stroke="#e3e6f3" stroke-width="1.2" fill="none"/><text x="267.0" y="1028.4" font-size="12.3" fill="#222" text-anchor="start" font-weight="400">APs on 5GHz Channel</text></svg><div style="left:1066.8px;top:861.9px;width:123.0px;height:60.3px;background:#fff;border-radius:5px;box-shadow:0 1px 8px rgba(0,0,0,.22)"></div><div class="t" style="left:1080.0px;top:880.5px;font-size:12.4px;color:#555;font-weight:400;">13</div><div style="left:1080.6px;top:900.0px;width:7.8px;height:7.8px;background:#1ea7d8;border-radius:50%"></div><div class="t" style="left:1095.9px;top:903.9px;font-size:12.4px;color:#555;font-weight:400;">channel</div><div class="t" style="left:1170.0px;top:903.9px;font-size:12.4px;color:#333;font-weight:700;">4</div><div style="left:1948.8px;top:43.2px;width:14.7px;height:1043.7px;background:#eceff5"></div><div style="left:1950.3px;top:44.1px;width:13.2px;height:589.8px;background:linear-gradient(90deg,#e4e4e4,#d6d6d6 60%,#d2d2d2)"></div></div></div>
<svg class="abs" style="left:0;top:0;pointer-events:none" width="1503" height="533" viewBox="0 0 1503 533"><defs><linearGradient id="c776" gradientUnits="userSpaceOnUse" x1="776.2" y1="0" x2="1468.5" y2="0"><stop offset="0" stop-color="#cecece"/><stop offset="0.12" stop-color="#d1d1d1"/><stop offset="0.38" stop-color="#d8d9d8"/><stop offset="0.5" stop-color="#dadbda"/><stop offset="0.7" stop-color="#d6d6d6"/><stop offset="1" stop-color="#cfcfcf"/></linearGradient><linearGradient id="c776t" gradientUnits="userSpaceOnUse" x1="0" y1="406.6" x2="0" y2="409.6"><stop offset="0" stop-color="#ececec" stop-opacity=".9"/><stop offset="1" stop-color="#ececec" stop-opacity="0"/></linearGradient></defs><path d="M776.2 406.1H1468.5V471.8A13.0 13.0 0 0 1 1455.5 484.8H789.2A13.0 13.0 0 0 1 776.2 471.8Z" fill="url(#c776)"/><rect x="776.2" y="406.6" width="692.3" height="3" fill="url(#c776t)"/><path d="M776.2 406.6V17.5A12.5 12.5 0 0 1 788.7 5.0H1456.0A12.5 12.5 0 0 1 1468.5 17.5V406.6ZM795.8 26.3H1448.7Q1449.5 26.3 1449.5 27.1V387.8Q1449.5 388.6 1448.7 388.6H795.8Q795.0 388.6 795.0 387.8V27.1Q795.0 26.3 795.8 26.3Z" fill="#3c3c3c" fill-rule="evenodd"/></svg>
</body></html>
